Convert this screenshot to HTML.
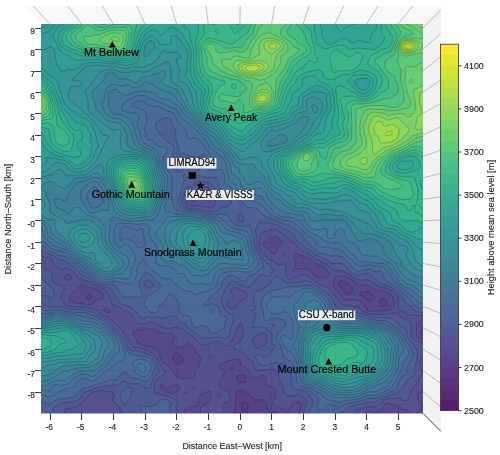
<!DOCTYPE html>
<html><head><meta charset="utf-8"><title>Terrain</title>
<style>
html,body{margin:0;padding:0;background:#fff;}
body{width:500px;height:455px;overflow:hidden;}
svg{display:block;font-family:"Liberation Sans",sans-serif;}
</style></head><body>
<div style="will-change:transform;width:500px;height:455px;">
<svg width="500" height="455" viewBox="0 0 500 455">
<polygon points="41.0,24.0 24.4,5.9 440.9,5.9 423.0,24.0" fill="#f8f8f8"/>
<polygon points="423.0,24.0 440.9,5.9 440.9,431.4 423.0,413.4" fill="#f2f2f2"/>
<path d="M50.1 24.0L33.2 5.9M81.7 24.0L67.7 5.9M113.3 24.0L102.2 5.9M145.0 24.0L136.7 5.9M176.6 24.0L171.2 5.9M208.3 24.0L205.7 5.9M239.9 24.0L240.2 5.9M271.6 24.0L274.7 5.9M303.2 24.0L309.2 5.9M334.9 24.0L343.7 5.9M366.5 24.0L378.2 5.9M398.2 24.0L412.8 5.9M423.0 392.0L440.9 407.0M423.0 370.6L440.9 383.7M423.0 349.2L440.9 360.3M423.0 327.8L440.9 336.9M423.0 306.4L440.9 313.6M423.0 284.9L440.9 290.2M423.0 263.5L440.9 266.9M423.0 242.1L440.9 243.5M423.0 220.7L440.9 220.1M423.0 199.3L440.9 196.8M423.0 177.8L440.9 173.4M423.0 156.4L440.9 150.1M423.0 135.0L440.9 126.7M423.0 113.6L440.9 103.3M423.0 92.2L440.9 80.0M423.0 70.7L440.9 56.6M423.0 49.3L440.9 33.3M423.0 27.9L440.9 9.9" stroke="#b0b0b0" stroke-width="0.8" fill="none"/>
<rect x="41.0" y="24.0" width="382.0" height="389.4" fill="#f5f5f5"/>
<path d="M50.1 24.0V413.4M81.7 24.0V413.4M113.3 24.0V413.4M145.0 24.0V413.4M176.6 24.0V413.4M208.3 24.0V413.4M239.9 24.0V413.4M271.6 24.0V413.4M303.2 24.0V413.4M334.9 24.0V413.4M366.5 24.0V413.4M398.2 24.0V413.4M41.0 392.0H423.0M41.0 370.6H423.0M41.0 349.2H423.0M41.0 327.8H423.0M41.0 306.4H423.0M41.0 284.9H423.0M41.0 263.5H423.0M41.0 242.1H423.0M41.0 220.7H423.0M41.0 199.3H423.0M41.0 177.8H423.0M41.0 156.4H423.0M41.0 135.0H423.0M41.0 113.6H423.0M41.0 92.2H423.0M41.0 70.7H423.0M41.0 49.3H423.0M41.0 27.9H423.0" stroke="#b0b0b0" stroke-width="0.8" fill="none"/>
<clipPath id="pc"><rect x="41.0" y="24.0" width="382.0" height="389.4"/></clipPath>
<g clip-path="url(#pc)"><defs><path id="c1" d="M426.0 417.0 38.0 417.0 38.0 21.0 426.0 21.0 426.0 417.0Z"/><path id="c2" d="M426.0 417.0 38.0 417.0 38.0 21.0 426.0 21.0 426.0 417.0Z"/><path id="c3" d="M426.0 417.0 38.0 417.0 38.0 21.0 426.0 21.0 426.0 417.0Z"/><path id="c4" d="M426.0 417.0 248.2 417.0 247.9 414.0 246.1 411.0 248.0 407.0 248.0 405.0 246.0 401.8 244.0 400.9 242.4 402.0 241.5 405.0 241.7 407.5 243.4 411.5 242.5 417.0 38.0 417.0 38.0 21.0 426.0 21.0 426.0 417.0Z"/><path id="c5" d="M426.0 417.0 278.9 417.0 278.2 414.0 276.5 411.8 274.5 411.4 270.5 412.1 268.5 411.0 267.1 408.5 265.2 402.5 263.0 399.9 261.0 399.3 256.0 400.3 254.5 400.0 249.0 394.3 242.5 390.5 240.5 390.0 237.0 390.9 235.7 392.5 236.4 397.5 235.2 403.0 235.5 408.0 233.8 412.5 234.8 417.0 38.0 417.0 38.0 21.0 426.0 21.0 426.0 324.8 424.4 327.5 421.3 330.0 420.6 332.0 421.0 334.0 421.8 335.0 426.0 336.5 426.0 417.0ZM348.5 294.0 350.5 293.4 352.3 291.5 352.9 289.0 352.1 287.0 348.0 284.4 344.1 281.0 341.5 280.6 339.1 281.5 338.2 283.5 338.9 285.5 342.6 289.0 346.0 293.5 348.5 294.0ZM371.1 300.5 374.0 298.5 374.8 297.0 373.9 295.5 370.0 292.3 367.0 291.6 360.0 293.0 359.4 293.5 360.0 294.7 363.0 296.7 366.3 300.0 368.5 300.7 371.1 300.5ZM89.0 300.0 90.7 299.0 91.6 297.0 91.0 295.0 89.5 294.1 87.5 295.3 86.3 298.0 87.1 299.5 89.0 300.0ZM384.6 306.5 387.0 304.5 387.0 301.5 384.5 298.8 381.5 298.6 380.2 300.0 379.7 305.0 381.5 306.6 384.6 306.5ZM179.6 364.5 183.6 362.0 184.3 361.0 184.4 359.5 178.2 353.5 176.5 353.0 173.1 356.0 172.5 359.0 173.5 361.5 175.0 363.2 177.5 364.4 179.6 364.5ZM243.7 382.5 245.2 381.5 246.3 379.5 246.5 378.0 245.8 376.5 244.0 375.5 241.0 374.9 239.0 375.1 237.5 376.0 236.7 378.5 237.3 381.0 240.0 382.5 243.7 382.5Z"/><path id="c6" d="M364.0 417.0 298.9 417.0 299.2 413.5 301.4 405.5 300.3 403.0 298.0 402.1 295.0 402.4 293.0 403.5 290.1 407.0 288.0 411.8 287.0 412.3 286.0 412.0 280.0 407.0 273.8 405.5 272.4 404.5 272.4 402.5 274.4 398.5 275.5 390.5 274.5 388.7 271.0 386.2 265.5 385.1 266.0 379.0 265.1 376.5 263.5 375.6 261.5 375.5 255.5 377.9 253.0 377.6 247.0 368.0 245.0 366.7 240.5 365.5 240.2 364.5 240.7 361.5 240.0 360.1 235.5 358.9 229.0 360.7 219.0 364.9 218.1 366.0 218.9 367.5 223.5 369.9 224.4 371.5 222.7 376.5 218.5 384.0 218.4 386.0 220.1 387.5 227.5 391.8 229.8 395.0 230.6 397.5 230.1 400.0 229.0 401.6 224.0 403.3 222.5 404.5 222.3 406.5 223.9 410.0 223.9 411.5 221.0 414.5 220.0 417.0 200.1 417.0 200.6 407.5 208.5 402.1 210.0 399.8 211.3 393.5 210.5 391.9 208.5 391.4 206.0 392.1 201.0 395.1 199.5 396.6 198.2 399.0 198.3 404.0 197.3 406.0 195.0 406.5 190.0 405.7 188.2 406.5 185.9 408.5 184.7 411.0 185.6 417.0 38.0 417.0 38.0 21.0 426.0 21.0 426.0 318.2 422.9 319.0 417.5 322.6 416.9 324.5 416.1 333.5 416.5 336.0 418.0 337.6 421.0 338.9 426.0 339.7 426.0 360.8 425.3 363.0 426.0 365.3 426.0 387.5 423.9 390.0 419.0 393.5 417.5 396.0 417.2 398.5 421.1 403.0 421.8 407.5 420.5 410.4 415.0 415.1 414.0 414.9 408.5 410.6 402.0 409.4 397.5 405.1 393.0 405.1 387.5 402.8 385.5 403.6 381.5 409.4 379.0 411.5 375.5 412.1 369.0 410.6 366.5 411.2 365.1 413.0 364.5 417.0 364.0 417.0ZM193.5 201.0 195.9 199.5 196.5 198.5 196.0 197.4 194.5 196.5 192.5 197.0 191.7 198.5 191.8 201.0 193.5 201.0ZM207.1 200.0 208.5 199.2 209.2 198.0 208.9 197.0 208.0 196.4 206.5 197.0 205.0 198.5 205.5 199.7 207.1 200.0ZM274.8 253.5 276.0 252.4 277.6 248.5 281.2 244.0 281.6 242.5 280.6 240.5 278.0 237.7 276.0 236.5 274.0 236.2 269.2 238.0 266.9 241.0 263.5 243.2 262.8 244.5 263.5 246.1 268.5 249.1 272.0 253.0 273.5 253.7 274.8 253.5ZM319.9 277.5 325.5 276.8 328.0 276.0 329.1 274.5 328.4 272.0 322.5 266.3 317.0 264.5 309.0 258.1 297.0 253.8 295.5 253.8 294.5 254.5 294.1 257.0 295.6 264.5 295.0 266.9 293.3 269.5 293.5 270.8 295.0 270.7 298.0 268.6 303.0 269.1 307.5 268.6 309.5 269.8 315.5 276.5 317.5 277.4 319.9 277.5ZM68.9 280.0 70.1 279.5 71.0 278.2 71.1 277.0 70.3 275.5 69.0 274.6 67.5 274.5 64.6 276.0 63.8 277.5 64.2 279.0 66.5 279.9 68.9 280.0ZM383.7 311.0 391.5 308.8 393.0 307.8 394.1 306.0 394.4 302.5 393.6 298.5 392.1 296.0 389.8 294.0 383.0 291.1 376.0 289.9 367.0 284.9 359.0 285.0 354.9 281.5 346.5 276.7 338.0 276.0 336.0 276.6 334.3 278.0 333.0 282.5 333.9 287.0 335.0 288.5 339.7 292.5 342.4 298.5 343.5 299.5 346.0 300.0 355.0 299.7 360.5 301.5 364.3 305.0 367.3 310.0 369.0 311.2 383.7 311.0ZM91.4 304.5 98.0 299.7 102.5 299.0 103.4 298.0 102.9 295.0 101.5 292.6 93.7 288.0 87.5 287.4 83.5 285.5 80.5 285.8 78.8 287.0 77.0 290.9 71.0 294.4 69.7 296.0 69.5 300.0 71.5 302.0 87.5 304.8 91.4 304.5ZM109.2 312.5 110.1 311.0 108.4 309.0 106.0 308.1 103.8 309.0 103.6 310.5 104.5 311.5 107.0 312.5 109.2 312.5ZM184.9 379.0 188.0 378.2 193.0 378.6 195.0 377.9 195.6 376.5 194.5 372.0 198.0 367.0 200.8 360.0 200.0 356.6 196.0 353.5 194.4 348.5 189.5 342.8 188.5 342.3 185.3 345.5 181.0 347.6 178.5 347.5 174.0 346.1 172.1 344.5 174.4 338.0 174.1 336.0 172.5 333.7 171.0 333.1 166.5 333.9 163.0 333.4 158.5 331.9 153.0 328.8 138.5 329.9 132.9 332.5 132.7 334.0 135.7 338.0 137.2 343.0 146.5 346.5 153.0 346.7 155.5 347.9 158.2 351.0 161.5 360.9 162.5 362.5 167.0 364.4 168.5 365.7 174.0 372.2 176.5 376.8 182.5 378.8 184.9 379.0ZM231.5 369.5 230.6 369.0 231.1 367.5 232.5 366.6 234.0 366.5 234.5 367.0 234.0 368.2 231.5 369.5ZM174.2 393.5 177.0 392.1 179.0 389.5 179.2 386.5 177.5 384.3 176.0 384.1 173.0 386.3 167.5 387.9 166.0 387.7 162.5 385.0 161.0 384.8 160.1 385.5 159.9 387.0 160.9 388.5 167.6 392.5 171.0 393.5 174.2 393.5ZM290.5 417.0 288.1 417.0 289.5 416.1 290.5 417.0Z"/><path id="c7" d="M360.0 417.0 304.1 417.0 304.3 410.0 306.5 403.5 305.8 400.0 303.5 397.1 301.3 395.5 298.5 394.7 290.0 396.2 287.0 395.5 284.7 393.5 283.5 391.6 282.4 386.0 279.7 381.5 278.8 376.5 275.0 369.5 272.5 368.8 259.5 370.8 257.0 370.3 254.5 367.4 253.0 362.5 251.6 360.5 247.0 357.4 243.5 353.0 234.5 348.8 233.7 348.0 233.6 346.5 234.4 344.5 239.5 342.5 242.5 337.5 243.4 331.0 242.3 327.0 242.2 324.5 241.5 323.4 240.5 323.2 239.4 324.0 237.0 329.0 235.2 335.0 232.0 340.5 227.5 345.9 225.0 346.0 221.0 342.4 216.0 341.3 213.5 341.8 205.0 345.5 203.0 345.5 199.0 343.3 195.0 338.5 184.5 330.2 181.5 328.5 175.5 327.5 166.0 328.7 154.5 323.2 150.5 322.1 148.5 322.2 144.0 324.0 137.5 322.9 136.0 321.7 132.0 315.5 129.5 312.7 125.0 310.8 121.0 308.2 112.0 304.4 111.2 303.0 110.8 299.0 109.9 296.0 104.2 289.5 87.5 281.2 79.5 278.2 77.2 276.5 73.9 272.0 66.0 267.5 65.0 267.5 63.5 269.2 62.5 269.6 55.5 266.8 54.5 265.5 52.9 260.5 50.0 257.7 38.0 255.5 38.0 21.0 426.0 21.0 426.0 315.6 420.5 315.9 415.5 315.1 409.0 314.9 405.0 312.5 400.0 310.5 398.8 309.5 398.1 307.5 398.3 297.5 397.0 295.0 394.8 293.0 386.5 288.3 378.5 286.1 372.3 282.0 368.0 280.0 366.0 279.6 361.5 280.1 359.0 279.6 353.5 277.5 343.5 271.0 335.5 270.6 333.0 269.7 329.7 267.5 324.0 262.3 316.0 258.9 309.5 254.2 302.3 251.0 296.5 245.0 280.5 232.1 275.0 229.7 270.4 229.5 261.5 232.8 260.1 234.5 260.2 239.0 258.6 245.5 260.0 249.8 263.0 254.2 266.2 256.5 269.0 259.4 273.5 261.1 278.0 264.5 283.5 264.3 285.0 264.9 285.9 267.0 285.7 273.5 286.8 277.0 288.0 278.7 289.5 279.3 291.9 279.0 301.5 274.7 304.0 274.8 307.0 275.7 317.0 282.7 323.5 286.1 329.0 288.1 334.5 295.6 337.5 298.0 338.9 302.0 340.5 303.7 345.5 305.9 351.0 306.0 358.0 307.6 363.5 312.0 367.0 313.8 374.0 314.7 385.5 314.2 392.5 313.2 396.5 313.5 400.5 316.8 407.0 319.6 409.7 322.5 411.3 326.0 411.0 334.5 411.5 337.0 412.5 338.5 417.5 341.3 426.0 343.7 426.0 354.7 421.6 357.0 420.5 358.9 419.9 361.5 420.4 368.0 422.3 373.0 422.0 374.9 417.8 381.0 415.6 385.5 411.2 389.5 408.4 399.5 406.5 400.5 403.5 400.7 400.0 398.1 398.5 397.6 394.0 398.4 387.0 398.7 383.5 400.0 378.0 405.4 376.0 406.6 373.5 407.1 367.5 406.6 360.5 409.3 356.0 409.5 354.0 410.3 353.8 411.5 354.7 412.5 359.0 414.2 360.0 417.0ZM211.1 208.0 213.1 207.0 214.5 205.0 215.6 199.5 215.6 196.5 214.1 193.0 208.0 187.2 205.5 186.7 201.0 187.6 196.1 190.5 190.0 192.4 188.5 193.8 185.3 202.5 185.9 204.5 187.5 205.9 191.0 206.7 198.0 205.5 211.1 208.0ZM285.0 255.2 284.0 254.5 284.5 253.3 285.4 254.0 285.0 255.2ZM181.0 417.0 123.2 417.0 121.2 410.5 118.0 405.3 112.9 401.5 112.8 399.5 114.5 395.5 113.5 392.6 112.0 391.7 108.0 391.5 103.5 390.5 97.0 390.8 90.0 393.9 85.0 398.4 81.8 403.0 77.0 406.5 72.0 407.6 68.5 409.0 65.5 408.7 64.9 409.5 64.8 417.0 38.0 417.0 38.0 264.6 41.0 266.0 44.2 269.5 49.5 270.9 51.3 272.0 52.2 274.5 52.0 280.0 53.5 282.5 56.0 284.1 62.0 286.0 64.3 287.5 64.4 289.0 62.3 292.5 60.2 298.0 61.2 300.0 65.3 305.0 68.5 306.4 85.5 307.3 96.0 309.7 101.4 314.0 110.4 319.0 121.8 329.5 123.9 334.0 127.8 338.5 132.5 346.7 134.0 347.4 138.5 347.6 141.0 348.2 150.5 352.2 154.1 355.0 156.5 358.1 161.0 366.6 164.3 369.5 165.0 371.0 164.5 373.0 163.3 375.0 157.5 378.7 155.5 381.0 154.8 383.5 154.1 391.5 156.0 393.2 168.0 396.5 177.0 400.5 177.7 401.5 177.9 403.5 176.0 407.5 176.0 409.0 181.0 415.5 181.5 417.0 181.0 417.0ZM233.9 308.5 236.6 308.0 237.5 304.0 238.4 302.5 245.8 298.5 247.0 296.0 246.5 293.1 245.0 291.5 242.5 290.1 238.5 289.1 234.5 287.3 232.6 288.0 231.2 290.0 231.2 291.5 232.6 295.5 232.4 297.0 228.5 299.6 227.4 302.0 228.0 306.5 229.0 308.3 230.5 308.9 233.9 308.5ZM260.3 348.0 264.5 345.1 266.5 342.1 267.3 339.5 267.3 337.0 266.5 334.9 264.5 333.2 262.0 332.3 260.0 332.7 257.0 335.4 253.5 337.5 252.3 339.0 251.9 340.5 252.7 343.5 255.5 347.4 257.5 348.4 260.3 348.0ZM211.0 358.5 209.0 358.3 208.6 357.0 211.5 355.5 213.5 355.4 214.5 356.0 214.5 357.0 213.9 357.5 211.0 358.5ZM194.0 388.7 193.0 388.5 192.7 387.5 194.0 386.2 194.7 386.5 195.0 387.5 194.0 388.7ZM186.0 394.0 185.1 393.0 186.0 391.7 186.8 392.0 187.1 393.0 186.0 394.0ZM219.5 397.1 218.0 396.9 217.3 396.0 217.5 394.8 218.5 394.1 220.5 394.1 221.4 395.0 221.0 396.3 219.5 397.1ZM91.5 417.0 88.8 417.0 89.5 416.0 90.5 415.7 91.5 416.4 91.5 417.0Z"/><path id="c8" d="M203.5 338.5 201.6 338.0 199.0 335.5 195.5 333.7 190.4 330.0 186.0 324.7 181.0 322.2 178.0 318.7 172.5 315.9 168.5 316.0 163.0 318.7 157.5 317.0 152.5 317.3 148.0 316.8 143.0 318.1 140.0 317.3 138.4 316.0 136.3 312.0 131.0 307.3 121.1 304.0 119.4 303.0 117.8 299.0 111.0 288.5 101.5 285.6 95.0 282.0 89.5 278.1 83.0 276.2 77.8 270.5 66.0 261.0 59.0 259.6 51.0 254.6 46.0 253.2 42.0 251.1 38.0 250.0 38.0 21.0 426.0 21.0 426.0 312.9 419.0 312.0 413.5 309.8 409.0 305.4 404.2 302.0 401.7 296.5 397.0 291.1 387.5 285.3 381.0 283.5 378.5 282.3 369.0 273.5 366.5 272.9 358.0 275.3 354.0 274.6 350.0 271.5 346.3 266.5 343.0 264.3 339.5 263.2 332.0 263.4 326.0 259.1 315.5 254.9 311.0 250.9 305.5 247.7 297.8 241.5 296.1 239.5 294.0 234.8 286.5 229.9 281.5 227.9 278.0 224.9 261.0 221.9 259.0 223.0 255.5 229.5 255.5 232.0 257.1 238.0 255.9 244.0 256.2 247.5 257.3 250.5 261.4 257.0 266.5 262.7 271.4 267.0 272.6 270.0 272.2 272.5 270.0 275.2 268.0 276.3 266.0 276.1 262.0 274.4 259.5 275.0 258.0 276.5 252.5 284.6 250.8 286.0 248.5 286.9 246.0 287.1 244.0 286.5 240.5 285.1 236.5 282.3 234.5 281.5 231.5 281.4 229.5 282.6 225.2 289.0 221.2 300.5 224.9 310.5 227.5 312.7 232.4 314.5 233.9 316.5 232.1 325.0 230.5 329.0 229.5 335.2 228.0 337.1 226.0 337.9 217.0 337.1 203.5 338.5ZM214.7 212.0 217.0 211.1 221.0 207.9 226.0 207.1 229.5 205.7 231.0 204.4 231.6 202.5 230.9 200.5 229.0 198.9 227.0 198.6 223.0 199.0 221.5 198.5 217.0 190.6 211.5 184.0 208.0 182.4 203.0 182.3 197.5 181.3 194.5 183.0 191.0 186.6 187.5 188.0 186.0 189.1 182.4 198.5 181.9 201.0 182.4 204.5 184.4 207.0 188.5 208.9 197.0 208.9 209.7 212.0 214.7 212.0ZM242.7 221.5 243.5 220.5 243.7 219.0 242.5 215.3 241.0 214.0 238.5 214.5 237.6 216.5 238.4 220.5 240.5 221.9 242.7 221.5ZM331.5 417.0 309.0 417.0 308.9 411.5 312.1 406.0 312.7 402.0 312.3 399.5 309.6 395.5 305.5 391.4 303.0 390.4 296.0 389.4 291.9 386.5 290.8 383.5 292.1 378.0 291.4 373.5 290.1 371.0 286.6 368.0 285.0 365.3 283.0 364.0 278.5 362.8 273.0 363.3 265.0 365.3 261.0 365.1 258.8 363.5 255.3 357.0 255.5 356.0 259.0 354.5 263.5 357.1 267.5 356.5 269.0 355.3 271.3 351.5 275.3 346.5 272.8 344.0 272.1 342.5 272.0 333.8 271.1 332.0 265.8 328.5 259.5 326.4 257.5 326.4 254.0 328.0 253.0 327.7 252.6 327.0 256.0 315.5 255.5 313.4 253.0 312.0 252.2 310.5 253.5 309.4 256.0 309.5 256.3 308.5 253.9 304.5 253.8 294.0 255.5 292.0 260.5 290.3 264.0 287.6 268.6 285.5 273.6 278.5 276.0 276.5 277.5 276.4 279.0 276.9 283.5 281.4 287.5 283.0 298.5 282.4 305.0 280.9 308.0 281.1 310.0 281.9 318.5 287.2 324.0 292.0 329.0 294.5 336.0 306.6 338.5 308.6 345.0 310.8 358.0 312.8 369.5 316.8 375.5 317.6 382.0 317.4 388.5 317.9 393.0 319.1 401.0 326.2 405.5 328.8 408.2 339.0 413.1 344.0 417.8 351.5 417.9 353.5 414.7 369.0 414.5 375.0 413.0 376.5 409.5 378.2 407.2 380.0 404.8 384.5 400.5 390.2 394.5 394.2 384.0 397.3 377.0 401.2 373.0 402.3 367.5 402.3 349.5 406.7 347.5 407.8 343.5 411.4 337.0 413.4 332.5 413.8 331.6 415.5 332.0 417.0 331.5 417.0ZM51.5 297.7 50.0 297.6 46.5 295.7 42.0 295.7 39.3 293.5 38.0 293.2 38.0 278.4 44.0 280.0 46.9 284.0 53.1 290.0 54.1 292.0 54.2 294.0 53.0 296.6 51.5 297.7ZM150.7 288.0 153.3 286.5 153.4 285.0 152.7 283.5 149.5 280.4 147.5 279.9 146.0 280.5 144.1 283.0 144.9 286.0 147.0 287.9 150.7 288.0ZM54.5 417.0 38.0 417.0 38.0 300.1 42.5 304.2 48.5 306.8 51.0 307.1 57.0 306.4 67.0 309.1 85.5 309.9 93.5 312.4 97.0 314.1 104.3 318.5 108.0 321.5 114.6 329.0 124.0 338.2 125.6 340.5 128.3 347.5 130.0 349.8 132.5 350.8 139.0 351.1 148.5 354.5 151.5 356.3 157.1 364.5 158.8 370.5 158.5 372.7 153.5 378.0 152.3 380.5 150.5 386.5 148.5 388.3 146.0 388.2 139.0 383.7 130.0 383.8 124.0 380.9 119.0 384.4 97.0 387.3 83.8 393.0 82.2 394.5 80.0 398.7 78.0 400.2 73.0 402.0 68.5 402.1 62.0 403.3 55.0 406.4 53.3 409.0 54.9 417.0 54.5 417.0ZM274.7 326.5 274.8 325.5 274.0 324.6 273.0 324.4 272.0 324.9 272.8 326.5 274.7 326.5ZM125.0 404.6 123.5 403.9 121.2 400.0 120.3 397.5 120.4 395.0 122.0 392.1 125.0 389.0 128.0 387.4 130.5 387.2 131.5 388.0 132.1 390.0 130.3 397.5 126.0 404.0 125.0 404.6ZM172.0 417.0 144.5 417.0 140.5 409.5 140.1 406.0 141.5 405.3 144.5 406.7 146.5 407.0 154.0 405.5 157.2 404.0 158.3 401.0 159.5 400.0 166.5 399.5 168.5 400.7 170.0 403.0 170.2 405.5 169.2 410.0 172.2 416.0 172.4 417.0 172.0 417.0Z"/><path id="c9" d="M214.0 333.5 210.8 332.5 207.0 327.4 204.0 325.4 200.5 325.5 196.5 328.1 194.0 327.2 192.7 325.0 190.5 317.0 188.0 315.5 183.0 315.5 181.0 314.0 179.3 311.0 179.1 305.0 176.7 299.0 175.0 297.0 170.0 293.8 169.0 293.8 168.5 294.5 167.4 297.5 164.0 302.3 158.5 306.2 158.0 307.5 158.3 310.5 157.8 311.5 155.7 312.5 153.0 312.8 151.0 312.4 148.9 311.0 144.5 306.4 144.0 304.5 144.4 302.5 146.7 298.5 149.9 295.0 158.6 289.5 159.8 287.5 160.3 285.5 159.5 283.5 156.0 280.7 153.0 276.3 149.5 273.9 146.0 272.8 144.3 273.0 139.3 281.5 139.2 285.5 142.5 293.0 142.1 295.5 141.1 297.0 139.0 297.7 133.0 296.6 128.0 297.5 126.0 297.4 123.0 295.9 119.5 292.6 116.9 287.0 115.0 285.0 112.0 284.1 105.0 284.4 101.0 283.1 96.8 280.5 90.5 275.2 84.0 272.1 66.5 256.9 58.5 255.2 48.3 250.5 44.5 247.1 38.0 245.9 38.0 21.0 426.0 21.0 426.0 309.0 418.5 307.9 415.5 306.5 411.4 301.0 406.5 296.8 403.0 292.9 397.5 288.0 392.9 285.5 389.0 281.7 385.0 279.4 384.0 278.0 382.4 273.0 381.0 271.2 379.5 270.8 376.0 271.8 371.0 269.2 369.0 268.7 359.5 271.1 357.0 271.0 354.5 269.5 342.8 257.0 336.5 255.7 331.5 255.9 318.4 252.5 309.8 245.0 304.9 239.5 301.0 233.5 297.5 230.4 293.0 228.3 288.2 225.0 283.5 224.1 279.5 221.8 265.1 216.0 262.2 214.0 255.8 208.0 247.0 207.2 243.4 203.0 238.5 200.3 231.5 194.2 229.0 193.0 224.5 192.8 222.5 192.0 218.5 186.0 217.5 179.0 216.5 177.6 210.5 177.7 203.5 176.8 194.9 174.0 194.8 173.0 195.5 172.0 200.0 169.2 203.8 164.5 204.2 162.0 202.5 158.0 204.4 155.5 204.2 154.5 202.5 154.2 200.0 156.7 196.5 157.8 183.5 153.9 179.8 151.0 178.8 149.5 178.0 145.0 174.7 137.0 175.8 131.0 172.5 125.5 170.5 119.2 169.0 118.3 165.0 117.7 156.1 122.5 155.5 125.0 156.0 128.5 162.0 137.2 163.5 138.5 166.5 139.8 168.5 142.7 172.6 145.0 174.1 147.0 173.2 153.0 173.2 157.5 172.3 159.5 169.2 163.5 169.9 166.5 171.5 168.0 176.5 170.8 180.0 172.0 181.5 171.8 184.0 168.4 185.5 168.4 186.8 169.5 188.5 172.9 191.2 175.0 190.0 177.0 188.0 177.7 187.0 177.4 185.0 174.6 183.5 174.3 182.8 175.0 182.9 176.5 184.6 180.0 182.3 185.5 181.3 191.0 178.8 198.0 178.5 203.5 179.8 206.5 183.3 209.5 187.5 211.0 197.0 211.1 212.5 214.9 216.5 214.9 221.5 213.7 226.5 214.7 228.8 216.0 229.7 219.5 231.0 221.5 235.5 224.8 243.0 226.2 248.5 225.5 249.5 225.9 254.1 237.5 253.5 244.5 254.3 249.5 262.3 262.0 263.4 264.5 263.3 266.5 262.5 267.6 259.0 270.0 254.5 274.2 248.5 276.2 247.4 277.5 246.5 280.0 245.0 281.3 242.0 281.0 234.9 276.0 233.0 275.4 229.1 276.0 223.5 279.5 222.3 281.0 221.5 286.5 218.5 290.7 212.0 295.3 204.6 303.0 203.8 305.0 204.5 306.3 208.5 304.3 210.5 303.9 214.0 304.5 217.3 306.0 219.2 308.5 220.6 315.0 222.0 315.9 226.1 317.0 227.2 318.0 225.4 322.5 224.6 327.0 223.6 328.5 219.5 330.5 216.5 332.9 214.0 333.5ZM321.5 410.0 318.5 410.1 317.3 408.5 317.2 406.5 318.7 401.5 318.3 399.0 317.5 397.5 308.4 389.5 305.0 387.5 300.0 385.6 297.5 383.5 296.5 381.0 296.3 374.5 292.7 364.5 289.5 360.7 284.5 358.0 282.8 355.5 280.9 346.0 276.9 339.5 276.4 337.0 278.1 333.0 285.2 325.5 286.0 323.5 285.6 322.0 283.5 320.2 278.0 318.2 272.0 318.6 266.5 320.8 265.5 320.8 264.5 319.7 263.6 315.5 263.3 311.0 261.3 305.5 261.1 303.0 263.0 296.5 267.5 292.5 271.5 291.4 275.0 289.8 280.0 289.2 289.5 286.6 296.0 287.1 306.0 285.0 310.0 285.4 316.5 289.1 327.0 297.8 334.5 309.9 341.5 313.9 349.0 315.2 357.0 315.3 368.5 319.0 376.5 320.4 384.5 320.7 388.2 322.0 402.4 333.0 404.0 335.5 406.2 341.0 409.8 346.0 412.4 351.0 413.2 353.5 413.0 355.5 410.2 362.0 407.2 367.0 406.3 373.0 405.1 374.5 401.0 377.6 399.1 381.0 397.6 386.5 392.6 391.0 378.0 397.7 367.5 398.7 360.5 401.1 346.0 403.9 340.0 406.9 337.0 406.8 331.0 404.6 328.0 404.6 326.3 405.5 323.5 408.9 321.5 410.0ZM50.5 404.0 48.5 404.1 44.5 402.8 40.5 398.9 38.0 397.9 38.0 309.4 41.0 309.4 44.5 310.7 47.0 310.9 56.5 309.2 64.5 311.3 74.5 312.4 84.0 312.4 96.5 316.9 101.5 319.7 107.5 324.5 112.2 330.5 122.1 339.5 123.5 341.7 126.5 350.0 129.5 353.7 132.5 355.1 141.0 355.8 148.5 357.5 151.0 359.6 154.9 366.0 155.2 368.0 154.5 369.9 149.5 378.4 147.0 381.1 145.0 381.2 137.5 378.7 132.0 378.0 130.0 376.7 127.0 372.8 124.0 372.0 120.0 374.5 117.5 378.7 116.0 379.9 108.5 379.8 103.5 382.5 96.5 384.4 89.0 387.2 84.0 388.2 80.0 390.7 76.8 395.0 75.0 396.4 66.0 398.6 58.5 399.0 55.0 400.6 50.5 404.0ZM323.5 417.0 318.4 417.0 319.5 415.2 321.0 414.5 322.9 415.5 323.5 417.0Z"/><path id="c10" d="M426.0 303.6 420.5 303.6 417.9 302.5 414.0 297.7 409.1 294.0 406.4 291.0 401.5 288.2 394.8 282.5 387.9 271.0 383.6 267.0 381.0 266.1 374.5 266.1 369.0 264.8 360.5 266.1 358.0 265.6 352.5 260.1 348.1 257.0 344.5 252.9 338.0 249.0 333.0 248.6 328.0 246.8 322.5 247.7 319.6 246.5 317.9 245.0 314.3 239.5 312.0 237.8 307.0 235.3 299.0 226.5 296.5 224.4 289.9 221.0 284.0 220.3 280.5 219.3 270.5 214.6 262.0 205.3 258.0 202.3 251.0 200.6 239.5 196.5 231.5 187.8 225.0 183.5 224.4 181.5 224.5 175.9 222.0 170.1 220.0 169.5 211.5 170.2 209.9 169.5 209.6 166.5 212.1 160.0 210.1 154.0 206.1 149.0 204.0 145.3 199.0 139.5 196.5 138.2 194.5 137.8 190.0 139.1 187.5 137.0 186.5 135.0 186.9 132.0 186.5 130.5 182.2 125.5 178.0 121.8 173.0 112.9 170.5 111.4 163.0 109.9 160.5 107.1 159.0 106.4 148.5 105.6 143.5 101.5 140.5 100.2 137.0 101.0 132.9 104.0 132.4 105.0 133.2 106.0 136.5 107.7 143.5 110.1 145.5 112.5 147.0 119.5 147.1 123.0 146.7 124.5 144.3 126.5 143.8 128.0 146.0 133.0 145.5 137.5 147.3 139.0 152.5 140.7 158.0 146.3 164.5 147.1 166.5 148.3 167.5 149.7 167.2 152.0 164.4 155.0 163.3 159.5 163.2 162.0 164.0 164.6 166.5 169.2 170.6 173.5 171.4 175.0 172.1 188.0 170.7 193.5 174.5 208.5 177.0 210.3 186.0 212.9 197.0 213.1 210.5 216.6 220.5 218.4 223.9 220.5 228.5 226.0 230.4 227.5 246.5 231.4 247.9 233.0 250.6 238.0 251.5 249.0 258.3 261.0 258.7 263.0 258.0 265.0 253.0 270.5 250.5 271.6 245.5 272.3 239.0 271.3 229.5 271.1 222.6 273.0 220.5 274.4 218.9 276.5 217.6 279.5 216.8 284.5 214.5 287.5 205.5 291.9 196.0 294.3 194.5 293.9 191.0 291.6 186.0 290.8 182.0 289.2 169.8 279.5 167.5 278.8 163.5 278.8 161.2 278.0 158.3 274.5 152.5 271.0 146.4 265.5 144.5 260.0 143.5 259.0 142.5 259.6 136.8 268.0 136.4 269.5 137.3 273.5 137.0 275.5 134.0 280.5 131.0 283.4 127.0 283.6 115.0 281.2 106.0 282.1 102.5 281.6 99.0 279.6 91.5 272.6 85.5 269.5 81.0 264.7 75.5 261.3 67.0 253.2 61.0 251.0 53.5 249.6 49.5 247.2 46.0 243.0 41.0 241.2 39.9 240.0 39.0 237.0 38.0 235.7 38.0 21.0 426.0 21.0 426.0 303.6ZM139.8 248.0 145.7 245.5 146.3 244.5 143.6 237.0 143.0 228.7 141.0 228.3 138.0 230.3 136.5 230.5 129.5 227.0 125.0 226.2 122.2 227.0 121.0 228.5 120.0 231.5 119.7 240.0 120.5 240.3 124.5 238.4 129.5 240.0 133.3 240.5 134.4 241.5 137.5 247.6 138.5 248.2 139.8 248.0ZM340.5 402.5 338.5 402.8 334.6 401.0 326.5 399.6 322.0 394.3 315.5 391.4 301.4 381.5 300.5 376.0 298.3 370.5 296.4 362.0 293.5 354.6 291.9 352.5 288.0 350.4 285.9 348.5 282.4 342.5 280.8 338.0 281.4 336.0 283.5 335.2 286.5 336.2 290.0 339.4 291.0 339.3 292.1 338.5 293.1 336.5 293.6 334.0 292.7 329.0 293.5 324.0 292.9 321.0 290.0 315.8 287.8 313.0 286.0 311.8 284.0 311.7 279.2 314.0 276.5 314.5 272.0 313.2 269.5 311.5 266.6 307.0 266.3 305.0 267.1 303.5 273.0 297.0 277.5 296.9 282.5 295.9 287.5 297.4 289.0 297.3 291.0 296.2 294.2 292.5 302.1 289.0 306.0 288.1 310.0 288.6 315.5 291.4 324.6 299.5 332.1 311.5 340.5 317.1 344.0 318.1 357.0 317.9 368.0 321.2 383.0 323.7 392.5 328.8 398.2 333.0 400.4 335.5 403.5 342.0 407.9 349.5 408.9 352.0 409.0 353.9 403.5 362.0 401.6 369.0 394.0 383.5 391.1 387.5 388.5 389.5 377.5 395.0 368.5 395.3 359.0 398.8 344.0 400.9 340.5 402.5ZM212.5 313.5 211.4 313.0 210.8 311.0 211.4 309.5 212.5 309.1 213.5 309.5 214.1 311.0 213.5 312.7 212.5 313.5ZM51.5 396.1 47.0 396.1 40.5 394.2 38.0 393.9 38.0 314.1 43.0 314.1 50.0 313.3 56.5 311.6 62.0 313.3 70.0 313.8 83.5 316.5 88.0 318.1 93.0 318.7 99.5 321.7 106.5 327.3 120.4 341.5 125.3 354.5 125.4 356.5 124.7 358.0 122.0 360.4 116.5 362.2 111.0 367.9 106.5 370.7 95.0 380.0 90.5 381.2 85.5 378.3 82.0 378.6 77.0 382.0 75.3 385.5 73.9 387.0 59.8 391.0 54.5 394.9 51.5 396.1ZM146.0 376.0 144.0 376.4 141.5 376.1 135.1 372.5 132.9 363.0 133.1 361.5 134.0 360.5 138.5 359.4 142.0 359.4 146.5 360.3 149.5 362.5 151.1 365.5 151.2 368.0 148.3 374.0 146.0 376.0Z"/><path id="c11" d="M426.0 298.6 420.5 297.3 409.5 288.6 402.7 286.0 397.4 280.0 390.0 268.0 386.5 264.7 382.5 263.4 375.5 263.0 368.5 261.2 362.0 262.0 360.0 261.8 358.5 260.6 356.0 256.5 350.9 253.5 347.0 248.5 340.0 242.9 338.0 242.5 332.5 243.1 325.9 241.5 317.5 235.8 308.5 231.2 304.0 226.5 300.1 221.5 298.5 220.2 290.0 217.2 285.0 217.3 282.0 216.7 274.3 213.0 271.0 208.4 265.9 204.0 263.0 198.0 261.5 196.4 253.5 194.4 246.0 194.9 241.5 193.1 237.8 189.0 235.0 184.5 230.5 181.4 229.3 180.0 227.5 173.5 226.8 165.5 223.5 158.7 218.0 153.5 211.5 149.3 205.2 139.5 195.0 128.6 188.9 123.0 182.5 119.2 177.3 110.0 175.0 108.4 169.5 107.0 164.0 103.7 158.5 102.1 154.0 99.8 150.0 98.6 146.0 96.0 144.0 95.3 136.3 96.0 129.4 99.0 123.0 103.5 121.6 106.0 121.3 108.5 122.3 110.5 124.0 111.5 135.0 113.0 138.8 115.0 139.2 117.0 137.2 122.5 137.0 125.0 140.4 134.0 141.1 140.0 143.7 143.0 153.0 148.2 157.4 152.5 158.7 155.0 160.3 162.0 164.0 170.9 167.6 176.0 167.8 185.5 166.1 192.5 166.3 203.0 164.2 207.5 164.5 211.1 165.5 211.7 169.5 212.0 174.5 213.5 187.5 215.1 194.0 214.9 198.5 215.5 215.5 219.8 220.0 222.5 225.0 228.5 227.1 230.0 243.0 234.5 245.0 236.4 247.1 240.0 249.0 250.5 253.9 259.0 254.2 261.0 253.7 262.5 250.0 267.1 246.5 269.0 234.5 267.9 225.5 268.2 222.5 268.8 217.8 271.0 215.1 273.5 212.7 282.5 210.5 284.4 208.5 284.5 202.5 283.0 196.0 284.4 194.5 284.3 188.0 281.5 186.7 278.0 184.2 274.0 183.0 273.5 179.5 273.8 178.0 273.4 171.0 266.5 168.5 265.8 160.0 265.5 156.5 263.5 155.6 261.0 156.9 252.5 156.6 246.0 152.0 240.1 149.4 235.0 148.9 232.5 150.0 227.5 148.6 225.5 146.5 224.3 144.0 223.7 137.0 224.5 130.5 223.6 119.5 223.1 116.5 224.2 114.4 228.5 114.1 238.5 115.0 244.0 117.0 246.7 119.5 247.8 121.0 247.4 125.0 244.4 126.9 244.5 128.6 245.5 131.6 249.5 135.1 256.0 135.6 258.5 135.2 261.5 131.4 268.5 130.8 271.0 130.6 276.5 129.0 278.4 123.0 279.1 115.5 277.6 109.0 279.4 104.5 279.7 100.5 278.0 93.5 271.0 88.0 268.0 82.3 262.5 77.0 259.4 67.5 250.4 63.0 248.3 56.0 246.9 53.1 245.5 44.7 237.5 42.4 232.0 42.0 226.8 40.5 225.2 38.0 224.2 38.0 21.0 426.0 21.0 426.0 298.6ZM95.0 208.0 98.6 206.5 102.4 204.0 103.9 202.5 104.2 201.0 101.7 197.0 99.5 192.2 96.1 187.5 94.5 186.8 92.5 187.6 88.5 191.0 86.7 197.5 87.2 199.5 91.0 207.1 92.5 208.1 95.0 208.0ZM349.5 397.5 337.5 397.7 330.5 396.2 323.0 391.1 316.5 388.7 309.5 384.6 305.8 381.5 304.1 379.0 300.0 367.1 296.5 351.8 295.5 349.7 292.5 346.0 294.5 344.0 295.7 341.5 299.2 326.5 295.7 318.5 294.2 312.5 293.8 307.0 299.3 298.5 303.5 293.1 305.0 292.1 309.5 291.8 313.4 293.5 322.5 301.2 328.0 311.0 330.0 313.5 340.0 319.8 344.5 321.0 356.0 320.8 360.5 321.2 366.0 322.9 380.5 325.8 390.4 330.5 397.2 336.0 402.8 347.0 403.4 350.5 400.5 354.3 399.5 356.5 398.5 366.0 397.2 370.0 392.5 378.7 387.5 385.9 376.5 391.6 369.0 391.8 358.0 396.3 349.5 397.5ZM50.0 390.7 48.0 390.9 42.0 389.6 38.0 389.8 38.0 318.8 46.5 316.1 56.5 314.0 70.4 316.0 83.5 320.9 93.5 321.9 100.5 325.8 109.5 333.7 117.7 342.5 119.0 345.0 119.5 347.5 119.4 350.0 118.5 352.4 113.0 355.6 110.7 358.5 107.2 365.0 104.5 367.5 100.2 370.5 95.5 375.0 93.5 376.1 91.5 376.4 85.0 374.0 80.0 374.4 72.0 379.8 68.5 383.2 66.5 384.4 60.5 385.2 56.0 384.5 54.0 384.8 52.2 386.5 50.0 390.7ZM144.0 372.6 141.0 372.0 138.2 369.5 137.7 366.0 138.3 364.5 139.5 363.4 142.5 363.7 144.8 366.0 146.0 370.0 145.5 371.5 144.0 372.6Z"/><path id="c12" d="M426.0 294.6 423.5 293.6 412.5 285.8 405.5 283.3 400.0 277.5 396.1 272.0 392.4 265.5 389.0 262.1 382.2 259.5 378.0 256.1 371.5 256.3 367.0 255.2 363.5 255.2 362.0 254.7 360.5 252.6 357.6 246.0 349.3 241.0 345.6 237.5 344.3 231.5 342.5 228.9 340.0 228.6 336.4 231.0 335.0 233.0 334.5 236.5 333.5 238.0 331.0 238.7 328.5 238.4 327.3 237.5 326.7 236.0 327.7 231.0 326.5 228.6 325.0 228.1 319.0 229.7 312.5 228.7 310.0 227.4 307.5 224.8 305.5 221.5 304.3 217.0 303.0 215.8 300.0 214.9 294.0 214.4 290.0 213.0 285.5 213.2 283.5 212.5 277.5 208.2 274.4 205.0 269.5 201.7 266.0 192.5 262.5 189.4 260.0 188.3 258.0 188.2 248.0 190.2 242.9 188.0 241.5 186.5 240.5 181.5 239.0 178.6 236.5 176.5 232.5 174.4 231.5 173.2 230.0 163.5 224.5 153.8 221.2 150.5 214.0 146.0 208.4 137.0 201.7 131.5 195.0 122.9 187.6 117.0 183.5 112.9 178.5 106.0 174.0 103.4 170.0 100.1 161.0 98.4 158.6 97.0 154.5 93.4 145.0 90.5 135.5 91.8 128.5 94.7 123.5 95.0 121.0 94.1 117.0 89.5 115.0 89.4 111.5 90.4 109.5 92.0 108.5 94.5 108.8 105.0 110.7 111.0 113.0 113.6 115.0 114.5 119.0 114.3 122.5 115.1 127.6 117.5 130.2 119.5 131.6 121.5 134.3 128.5 137.7 141.0 139.1 144.0 141.5 146.2 151.5 150.8 155.1 154.5 159.1 164.0 161.7 172.5 164.9 179.0 165.0 183.5 164.0 190.0 163.2 201.0 160.5 206.0 159.6 211.0 157.8 214.5 155.0 217.9 151.5 220.0 145.0 219.7 139.0 220.9 133.5 221.1 126.0 220.5 114.5 217.2 112.5 217.3 111.3 218.0 110.4 220.0 109.7 228.5 109.2 239.5 109.5 241.5 113.3 247.5 115.5 249.9 121.0 253.5 127.0 256.3 128.7 260.0 129.1 263.5 123.8 272.5 122.5 273.5 116.0 274.3 108.0 277.2 104.5 277.1 102.0 276.0 95.6 270.0 86.6 263.0 77.5 257.1 67.0 247.4 58.5 243.2 48.8 237.0 47.5 235.0 46.9 229.5 44.9 225.5 42.1 223.0 38.0 221.6 38.0 21.0 426.0 21.0 426.0 294.6ZM95.6 212.5 102.5 210.1 107.5 210.4 108.5 208.5 109.2 202.5 108.0 198.7 100.4 185.0 98.0 182.3 95.0 181.4 90.3 182.5 82.5 188.5 81.1 190.5 80.0 196.0 80.5 198.0 84.2 203.5 87.7 211.0 91.0 212.8 95.6 212.5ZM203.5 276.0 193.5 275.3 191.7 274.0 186.5 267.5 183.0 265.0 181.5 264.7 178.5 265.1 174.0 261.2 165.5 261.1 162.5 259.9 161.0 258.5 160.9 256.0 163.5 248.4 163.6 246.5 161.0 241.8 156.1 236.5 155.5 234.5 157.7 230.0 161.0 226.3 167.0 217.5 169.0 216.8 177.0 216.2 194.0 216.9 208.5 219.8 216.5 223.5 218.5 226.0 220.2 230.5 221.5 232.0 239.5 237.7 242.0 239.1 243.7 241.0 244.7 243.5 246.3 251.5 249.2 258.0 248.4 261.5 246.7 264.5 243.5 265.5 237.0 264.2 228.5 264.2 223.0 263.1 220.5 263.3 212.5 269.0 207.5 274.1 203.5 276.0ZM350.0 395.0 346.5 395.5 341.5 394.6 335.5 394.7 332.5 393.9 323.0 388.2 311.0 382.9 308.2 380.5 306.0 377.0 300.7 362.0 298.6 346.0 299.3 339.0 300.7 334.0 305.8 327.0 307.0 324.0 309.5 322.0 309.9 321.0 309.5 319.6 308.0 319.2 307.1 320.0 306.0 322.4 304.5 322.5 301.9 321.0 300.4 318.5 301.0 316.6 304.7 312.5 305.7 304.0 306.5 302.7 308.0 301.7 314.0 300.0 318.0 301.5 320.5 304.0 323.8 311.0 326.1 314.0 338.5 322.3 344.5 323.6 358.5 323.6 369.5 325.4 378.5 327.8 385.0 330.3 391.2 334.5 398.3 344.5 398.9 347.5 396.4 353.5 395.7 364.0 394.8 368.5 393.2 372.0 388.8 377.5 384.5 381.9 382.0 383.5 372.0 386.9 358.5 393.6 350.0 395.0ZM40.0 386.1 38.0 386.4 38.0 321.8 41.5 320.9 47.0 318.4 55.5 316.4 65.0 317.0 69.5 317.9 82.1 324.0 85.0 324.4 90.5 324.1 94.0 325.3 99.0 328.4 103.0 332.1 108.0 335.5 114.7 343.5 115.4 345.5 115.0 347.7 109.8 353.0 104.8 362.5 102.5 364.9 95.0 370.3 93.0 370.9 79.0 371.2 73.0 374.4 65.5 380.4 63.5 380.8 58.5 380.4 54.5 380.8 47.5 384.8 40.0 386.1Z"/><path id="c13" d="M426.0 288.7 422.4 287.0 416.5 282.0 410.0 280.4 403.9 276.0 398.9 270.0 395.5 263.0 386.5 256.0 383.2 250.5 382.2 246.0 380.0 243.0 378.2 241.5 375.2 240.0 369.5 238.5 360.5 241.0 357.5 240.2 353.0 233.1 349.8 227.0 345.8 221.5 344.0 219.9 342.0 219.3 337.5 219.9 327.5 219.9 323.5 219.3 317.5 220.9 312.0 221.0 310.5 219.8 308.4 214.5 306.5 212.3 301.6 211.5 294.5 211.3 290.0 208.0 285.0 205.8 279.9 200.0 274.5 198.2 271.5 194.9 268.0 189.1 261.5 182.5 259.0 181.5 257.0 181.4 254.5 182.1 250.5 184.5 249.0 184.6 247.0 183.7 245.2 181.5 243.2 176.5 239.8 173.0 238.5 168.9 234.0 164.9 231.8 159.5 228.0 153.6 219.5 145.5 213.5 136.8 204.2 130.0 196.5 120.4 184.8 110.0 181.0 103.5 177.0 99.5 174.0 95.2 169.3 92.5 156.7 87.5 152.5 84.4 147.0 82.0 144.5 82.6 139.5 86.4 136.0 87.4 131.5 86.8 126.5 84.5 123.0 86.0 114.0 84.3 111.0 84.7 108.0 87.1 106.3 89.5 104.8 94.0 103.9 99.5 101.7 104.5 102.8 108.0 105.8 114.0 107.2 115.5 113.0 118.4 120.5 118.8 126.9 124.0 131.1 130.5 132.7 139.5 136.3 146.5 139.0 148.5 146.0 151.0 151.0 153.6 153.0 155.6 156.0 160.9 158.0 166.0 159.6 173.5 162.0 179.5 162.6 183.5 161.0 200.0 154.5 214.0 153.0 215.3 151.0 216.1 132.5 218.5 127.5 218.1 117.5 214.5 115.2 212.0 111.5 200.5 106.2 189.0 100.4 179.5 99.0 178.2 97.0 177.4 92.5 177.9 85.0 181.1 79.5 181.6 76.5 183.1 74.0 185.7 68.9 193.5 66.6 199.5 65.5 200.8 64.0 201.0 59.5 199.0 57.0 198.5 55.0 199.0 54.4 200.0 54.6 202.5 56.5 207.7 64.5 210.7 67.5 214.1 69.0 213.7 73.6 208.5 76.0 207.6 78.5 207.6 81.0 209.1 85.5 214.7 98.5 218.8 101.2 222.5 104.6 226.0 105.6 228.5 105.1 238.0 106.2 243.5 113.5 252.0 122.4 260.0 123.6 263.0 122.8 266.0 121.0 268.6 112.0 273.5 107.0 274.7 104.5 274.3 102.5 273.2 93.6 266.0 89.0 261.2 79.4 256.0 66.5 243.7 52.0 234.0 51.2 232.5 50.6 228.0 48.9 225.5 43.5 220.8 38.0 219.0 38.0 21.0 426.0 21.0 426.0 288.7ZM203.0 271.0 200.0 270.6 194.0 267.8 177.0 254.2 174.5 253.6 168.5 254.0 167.0 253.3 167.8 247.5 164.7 237.5 164.7 231.5 166.2 226.0 168.5 222.8 178.7 219.5 183.5 218.9 194.5 219.0 208.0 221.8 211.4 223.5 213.6 225.5 217.3 233.5 223.1 239.0 225.9 244.5 227.5 244.4 230.3 241.5 233.5 240.4 237.5 241.5 240.5 243.9 242.0 249.1 242.9 259.0 242.5 259.9 233.0 259.1 223.5 256.5 221.0 256.7 216.5 258.9 209.5 267.2 206.0 269.8 203.0 271.0ZM317.0 310.6 315.5 309.5 316.5 308.0 317.5 308.2 318.1 309.0 318.0 310.0 317.0 310.6ZM38.0 382.6 38.0 323.8 42.5 323.1 48.0 320.6 55.0 318.7 65.6 319.0 71.0 320.8 81.5 326.6 91.5 327.4 95.0 330.1 100.0 332.9 107.0 339.4 108.6 344.0 108.6 346.5 104.7 350.5 102.5 359.5 101.2 361.5 99.5 362.8 93.0 366.0 88.0 367.5 78.5 367.9 71.0 369.5 67.5 371.1 63.0 371.2 60.0 372.6 55.8 376.5 48.5 380.0 38.0 382.6ZM348.5 393.0 335.0 392.0 322.5 385.0 313.0 381.2 308.0 375.5 303.0 363.5 301.8 359.0 301.0 346.5 301.6 340.5 302.7 336.5 304.8 332.5 307.0 330.0 310.5 327.4 315.5 325.2 319.5 321.0 321.5 319.7 324.5 319.3 328.0 319.7 336.0 324.7 338.0 325.4 347.0 326.3 365.5 326.7 376.0 329.3 383.5 332.3 387.7 335.0 389.5 337.0 391.5 341.3 395.6 345.5 395.7 348.0 393.3 353.5 393.3 362.0 392.5 366.5 391.0 369.7 387.0 374.4 383.5 377.4 375.7 382.5 366.0 386.7 358.5 391.0 348.5 393.0Z"/><path id="c14" d="M426.0 281.5 423.5 280.0 419.6 276.5 414.5 275.5 412.0 274.4 406.0 268.7 402.2 266.5 401.2 261.0 394.5 252.0 392.4 245.0 389.0 241.0 386.0 238.6 373.5 234.5 369.0 233.7 365.0 234.0 363.5 233.6 358.0 229.1 353.6 223.5 346.0 216.8 344.0 215.7 341.5 215.1 336.0 215.6 326.0 214.1 320.0 215.0 318.0 214.8 314.0 213.0 310.0 209.0 303.5 207.6 296.5 207.9 285.3 201.0 281.0 195.6 273.5 190.9 269.0 186.5 263.9 176.0 256.7 169.5 254.0 164.3 253.0 163.8 249.5 164.6 242.5 164.1 239.0 163.2 236.5 161.8 231.0 152.6 222.5 144.7 218.5 137.7 216.0 134.3 205.0 127.3 197.2 117.5 187.1 108.5 184.1 102.5 181.0 98.0 177.5 90.4 175.5 89.0 165.7 85.5 162.6 83.5 161.7 82.0 161.7 80.0 164.9 76.5 165.5 74.5 164.5 72.0 162.5 70.8 161.0 71.2 158.5 73.1 154.0 73.9 148.5 76.5 141.0 77.9 137.5 82.4 135.5 83.2 133.5 82.6 127.0 78.8 118.5 79.0 117.5 78.3 115.9 75.0 114.0 73.1 111.7 72.0 109.5 72.1 105.9 74.5 102.6 82.0 98.8 84.5 96.8 87.5 93.8 90.0 92.5 92.0 92.1 94.0 92.8 98.0 94.6 102.0 95.2 107.0 97.0 110.6 101.0 113.5 104.0 117.9 107.5 120.2 110.5 121.6 118.0 122.9 121.0 124.7 123.0 126.7 127.2 134.5 126.7 144.5 127.3 146.0 133.5 149.6 144.5 153.0 148.7 155.0 151.5 157.3 154.7 162.0 156.2 166.0 157.2 173.0 159.8 181.0 160.2 184.5 159.8 194.0 158.9 199.5 154.7 209.0 152.5 212.3 151.0 213.3 148.5 213.9 138.5 215.3 131.0 215.6 128.0 215.2 120.2 212.0 118.5 210.1 115.9 205.5 108.6 187.5 105.6 183.5 101.5 176.4 99.5 174.3 97.5 173.2 94.0 173.5 86.0 177.6 79.5 177.6 75.5 178.5 74.0 179.7 70.5 184.6 65.5 188.1 63.5 188.0 58.5 186.4 54.0 182.5 51.0 181.6 48.2 182.0 43.5 184.1 41.2 187.0 41.9 189.0 45.8 192.5 46.3 196.0 49.9 203.5 49.7 210.5 50.5 212.1 52.5 213.9 58.0 217.4 62.5 218.8 66.0 222.7 67.5 223.3 82.5 220.1 88.5 219.5 90.5 220.5 100.2 228.0 101.1 230.0 101.5 238.0 103.1 244.5 116.7 260.0 118.7 263.5 117.6 266.0 111.0 271.2 107.0 272.0 103.0 270.5 95.5 264.9 90.5 258.2 82.0 254.9 80.0 253.7 72.6 246.5 68.0 240.8 64.0 237.3 58.0 233.4 55.4 229.0 54.7 220.5 54.0 219.1 53.0 218.8 49.0 219.7 46.5 218.5 41.5 214.9 38.0 214.4 38.0 21.0 426.0 21.0 426.0 281.5ZM270.1 146.5 283.3 143.5 285.4 142.5 286.6 141.0 287.0 139.5 286.7 137.5 285.5 135.5 283.5 134.4 280.0 134.7 278.3 135.5 274.5 138.8 269.0 140.8 267.7 142.5 267.6 144.5 268.5 146.1 270.1 146.5ZM203.5 267.0 201.5 267.2 199.5 266.4 186.2 258.0 178.0 249.9 173.0 246.6 171.0 243.7 169.5 238.5 170.1 234.5 173.9 228.0 181.0 222.2 186.0 221.1 193.0 221.1 198.5 221.9 208.0 224.6 211.0 227.4 217.8 240.5 218.4 244.0 216.3 252.5 210.5 260.8 206.0 265.5 203.5 267.0ZM38.5 376.5 38.0 376.6 38.0 325.6 43.4 325.0 55.5 321.1 64.5 320.9 70.5 322.8 81.0 328.7 90.0 330.7 93.3 333.5 97.9 335.5 99.3 337.0 101.8 341.5 102.4 343.5 100.1 349.0 98.8 356.5 97.5 358.6 93.5 360.3 89.6 364.0 86.0 365.1 79.5 364.7 63.0 366.0 56.5 369.2 53.0 372.7 49.5 374.6 46.5 375.6 42.0 375.7 38.5 376.5ZM347.5 390.5 336.4 389.5 323.5 382.9 315.5 379.7 310.0 373.9 304.5 362.0 303.5 358.0 303.2 346.5 304.0 341.2 305.4 337.5 307.8 333.0 310.0 330.6 317.0 328.3 323.0 324.0 325.0 323.9 330.5 325.0 338.0 328.0 352.0 328.6 364.0 328.4 371.6 330.0 379.9 333.5 385.0 336.7 386.5 338.5 388.4 343.0 391.6 346.5 391.8 348.0 390.3 354.5 390.2 364.0 388.6 367.5 385.1 372.0 373.6 380.5 364.5 384.1 357.5 388.6 355.0 389.4 347.5 390.5Z"/><path id="c15" d="M426.0 272.7 416.5 269.2 410.3 264.0 406.5 256.0 406.4 254.0 408.0 249.5 407.4 247.5 406.0 246.1 399.5 244.4 389.3 236.0 374.0 230.3 369.0 223.8 364.5 222.7 360.5 220.2 352.0 216.9 346.0 213.0 338.0 210.8 332.5 210.6 329.0 208.9 319.5 209.9 312.0 206.2 303.5 203.9 298.5 203.9 296.5 203.3 293.7 201.0 291.2 196.5 286.5 194.6 281.0 190.2 274.5 187.5 271.6 185.0 269.4 180.5 268.2 173.0 267.0 171.4 262.9 168.0 262.1 166.0 261.6 162.0 259.0 159.3 256.0 157.4 253.5 157.0 249.5 157.5 242.5 160.0 240.5 159.8 239.0 159.1 232.6 150.0 228.0 146.5 224.5 143.0 218.0 131.7 215.0 129.4 208.5 126.6 205.5 124.7 199.5 116.7 189.4 106.5 184.3 94.0 181.1 88.0 178.9 86.0 173.5 83.4 171.1 81.0 170.7 79.0 171.3 74.0 170.6 66.5 169.0 63.0 167.5 61.7 165.0 62.0 160.5 65.0 154.0 67.5 148.5 71.2 145.0 72.1 142.0 72.1 135.0 70.7 129.0 72.6 123.0 72.6 119.0 71.6 112.0 68.7 105.0 70.0 101.0 71.9 97.5 75.0 90.9 84.5 86.8 88.5 84.9 92.0 85.2 93.5 87.4 97.0 88.1 103.0 88.0 109.0 89.5 112.2 95.5 117.7 111.5 129.7 114.0 130.4 118.5 129.1 120.6 130.5 121.5 134.0 120.3 140.0 120.5 147.0 121.9 150.0 124.5 151.2 131.0 151.8 144.5 155.2 149.5 158.1 152.9 162.5 154.3 166.0 154.9 172.5 157.8 182.5 157.8 192.0 157.4 197.0 156.3 201.0 153.0 208.0 151.0 210.5 147.0 212.1 138.0 213.3 129.0 212.3 124.8 211.0 122.4 209.5 119.6 206.0 114.7 197.0 110.9 186.5 106.4 180.5 103.6 174.0 102.8 167.0 101.9 165.5 100.5 164.6 97.0 165.7 88.0 173.4 85.0 174.7 66.0 175.9 62.6 171.0 61.0 170.1 59.0 169.8 56.5 170.6 53.5 173.6 51.5 174.6 44.5 176.5 38.0 176.6 38.0 21.0 426.0 21.0 426.0 272.7ZM315.9 112.5 317.5 110.6 317.5 107.9 315.5 105.6 313.5 104.6 312.5 104.7 311.8 107.0 313.0 111.3 314.0 112.5 315.9 112.5ZM270.2 151.5 274.5 149.6 284.0 146.8 290.0 143.8 298.1 135.5 306.0 126.2 307.4 121.0 308.9 118.0 308.6 117.0 304.5 116.7 300.5 117.3 298.5 118.8 296.4 122.5 294.0 124.1 277.0 130.9 271.0 130.7 269.0 131.6 262.3 140.0 261.0 143.0 260.7 146.0 261.7 149.0 264.0 151.2 266.5 151.9 270.2 151.5ZM43.5 208.5 40.0 207.8 38.0 208.0 38.0 197.5 43.0 201.0 44.3 202.5 44.8 206.0 44.4 207.5 43.5 208.5ZM203.0 262.1 199.5 262.2 192.5 259.1 186.0 254.0 179.5 245.7 176.0 242.5 175.7 240.5 178.2 231.5 180.2 227.0 182.5 224.8 185.5 223.8 189.5 223.3 199.0 224.3 206.5 227.2 210.7 232.5 214.2 241.0 213.6 248.5 212.3 251.5 207.4 258.5 203.0 262.1ZM107.5 268.1 104.5 267.7 97.0 262.4 95.9 260.5 94.5 254.7 93.5 253.0 92.5 252.6 86.5 252.8 82.6 252.0 80.0 250.1 74.0 244.1 69.0 237.0 68.6 235.5 69.6 232.5 73.5 228.2 78.5 225.5 85.5 224.7 90.5 227.3 96.5 231.5 98.0 235.5 98.1 243.5 98.9 246.5 106.4 254.0 111.7 261.5 111.0 264.5 109.0 267.2 107.5 268.1ZM43.0 367.6 38.0 367.6 38.0 327.3 44.0 326.7 55.5 323.7 62.5 323.0 66.5 323.5 70.5 324.9 85.3 333.0 94.0 339.9 95.5 347.0 95.3 349.5 93.5 352.4 88.9 356.0 87.5 360.3 86.5 361.3 60.0 362.4 51.0 365.1 47.0 365.4 43.0 367.6ZM346.0 387.6 342.5 387.5 337.0 386.4 318.5 378.6 314.5 375.5 310.0 369.5 307.6 365.0 305.7 359.0 305.4 347.5 307.0 341.2 310.0 334.7 312.0 332.5 323.0 328.8 329.0 327.9 338.5 330.3 364.0 330.2 370.5 331.8 377.6 335.0 381.0 337.4 383.8 340.5 387.4 347.5 387.9 350.0 387.2 363.0 384.5 368.1 380.6 372.0 370.5 379.1 363.0 381.9 354.7 386.5 346.0 387.6Z"/><path id="c16" d="M426.0 267.6 421.5 265.9 415.0 260.5 414.3 259.0 414.0 254.0 412.8 249.5 407.0 240.9 396.5 236.2 392.0 232.2 384.0 230.7 377.8 228.0 376.5 226.5 375.0 223.0 372.2 219.5 370.0 214.5 365.5 211.3 361.0 210.7 359.0 208.5 355.9 206.5 351.0 200.8 349.0 200.3 343.0 200.6 335.5 201.4 328.5 203.1 317.0 203.7 310.0 202.6 300.0 198.8 298.6 197.5 296.7 194.0 295.0 192.6 286.0 189.4 278.0 184.8 276.7 183.5 273.8 175.5 268.4 166.0 267.9 162.0 268.5 158.2 270.3 156.0 273.5 153.9 290.9 146.0 302.5 136.6 307.0 134.3 308.5 133.0 314.0 122.0 320.3 114.0 321.9 110.5 322.7 106.5 322.5 103.8 321.0 101.0 318.4 98.5 315.0 97.0 310.5 97.3 308.0 98.2 306.8 99.5 306.3 101.0 306.9 109.5 306.0 111.4 299.5 112.6 297.5 113.4 295.5 115.5 293.0 120.4 289.0 122.7 282.5 124.0 276.0 126.5 269.0 127.2 266.5 128.4 264.7 130.0 262.4 134.0 260.0 136.9 255.5 141.0 250.5 144.4 244.0 151.3 242.5 151.7 236.5 148.3 226.5 141.3 224.4 138.5 221.6 132.0 219.6 129.5 215.5 126.0 208.5 123.7 206.0 122.2 201.0 115.3 195.8 109.5 192.6 102.5 191.7 94.5 187.8 86.0 186.0 84.0 180.0 80.8 178.5 79.0 178.5 76.5 180.0 70.5 177.0 62.1 176.8 59.5 177.5 58.4 180.5 58.0 180.7 57.0 178.8 53.5 177.5 52.3 169.0 52.4 164.0 50.9 162.5 51.0 161.0 52.5 158.7 58.0 155.2 61.5 152.4 63.5 148.0 65.1 144.5 67.3 134.5 66.6 126.5 68.6 121.0 67.9 114.3 66.0 107.0 66.3 96.5 65.0 87.0 66.2 82.3 69.5 77.0 75.1 73.4 77.5 72.3 80.0 72.7 81.0 73.5 81.4 76.5 80.2 79.5 81.0 81.6 83.0 81.6 85.0 80.0 86.0 72.5 86.4 70.5 87.2 68.1 93.5 68.9 98.5 74.3 104.5 81.0 108.5 85.5 114.0 90.5 117.9 95.5 124.6 99.5 128.5 100.9 133.0 102.0 134.5 103.5 135.3 107.5 135.7 108.5 136.5 108.5 137.5 105.2 141.0 104.3 145.0 102.0 148.5 100.1 153.5 97.0 159.5 90.5 166.8 85.5 170.8 78.0 172.2 73.5 172.0 69.9 170.0 64.5 163.9 62.0 163.1 56.5 162.7 54.0 163.6 46.0 171.2 38.0 172.8 38.0 62.7 41.3 60.5 42.5 58.5 41.3 56.5 38.0 54.9 38.0 25.2 42.0 27.5 44.5 27.5 47.5 24.5 49.2 21.0 426.0 21.0 426.0 267.6ZM146.9 56.5 148.5 55.3 150.5 51.3 154.8 48.0 154.8 46.0 154.0 43.5 153.0 41.7 151.5 40.7 149.5 41.0 147.5 42.3 146.0 44.0 144.9 46.5 143.9 51.5 143.8 54.5 145.0 56.5 146.9 56.5ZM141.0 211.5 130.0 210.3 126.5 209.1 124.0 207.5 116.5 195.5 112.4 185.5 108.8 180.5 107.3 177.0 106.1 172.0 107.1 162.5 110.5 159.5 120.0 154.8 131.0 154.2 143.0 156.7 148.5 159.8 151.6 164.5 152.7 172.0 155.8 183.5 155.9 191.5 155.4 197.5 153.5 203.1 150.0 208.2 147.0 210.0 141.0 211.5ZM200.5 258.5 195.5 257.6 191.5 255.0 187.5 251.0 184.4 245.5 183.4 242.0 182.4 234.0 184.9 229.0 188.3 226.5 190.5 226.1 197.0 226.4 201.0 227.4 205.3 230.0 209.0 235.0 209.9 241.0 208.5 248.8 203.4 257.0 202.0 258.2 200.5 258.5ZM86.5 247.1 83.0 247.3 80.0 245.6 76.2 242.0 73.9 237.5 73.5 235.5 74.1 234.0 76.5 231.7 79.5 229.9 84.0 229.0 88.0 229.9 92.7 234.0 94.7 237.0 94.8 240.0 93.0 243.3 90.5 245.3 86.5 247.1ZM40.0 363.0 38.0 363.5 38.0 328.9 48.5 327.8 54.0 326.5 62.5 325.3 68.0 325.8 71.0 327.1 81.7 334.0 89.2 341.5 90.6 344.0 91.3 347.0 90.7 349.0 86.5 353.4 84.0 357.4 82.5 358.4 75.5 359.0 59.0 359.1 51.5 361.1 44.5 361.2 40.0 363.0ZM345.0 384.6 342.0 384.6 337.0 383.3 321.0 377.3 316.2 374.0 310.5 366.9 309.1 364.0 308.1 360.0 308.2 354.0 307.6 348.0 308.5 344.6 311.8 338.0 314.3 335.0 322.0 332.2 329.0 331.2 340.5 332.6 347.5 332.0 362.5 332.0 369.5 333.7 376.4 337.0 379.2 339.0 381.7 342.0 384.7 349.5 385.1 356.0 383.9 363.0 381.1 367.5 376.5 372.0 368.5 377.5 353.5 382.7 345.0 384.6Z"/><path id="c17" d="M426.0 260.6 424.1 258.0 423.7 252.5 423.0 250.5 422.0 249.5 418.0 247.9 414.1 244.0 410.5 238.9 403.0 235.2 398.5 232.4 395.0 229.4 391.0 228.4 385.0 227.9 381.0 225.6 375.8 214.5 371.6 210.5 367.7 205.5 363.0 204.0 359.0 202.0 352.5 196.5 345.5 194.6 342.0 195.0 335.5 197.6 330.0 198.1 325.0 199.3 315.5 198.7 310.5 199.0 308.5 198.6 304.0 196.0 298.0 190.4 286.0 185.5 283.0 182.0 280.5 177.2 274.9 170.5 273.9 167.5 273.6 162.0 274.1 159.0 275.3 157.0 309.5 136.6 314.0 130.9 318.0 127.0 319.6 124.0 321.0 119.5 325.2 112.0 327.0 107.5 327.2 104.5 326.2 100.0 326.6 95.5 326.1 94.0 325.0 93.1 316.5 91.4 311.0 93.1 305.5 95.7 303.5 97.3 302.5 99.0 302.3 105.0 301.7 107.0 300.5 108.1 294.5 111.0 289.5 118.2 286.0 120.1 276.5 122.9 269.0 123.8 265.0 124.9 261.5 128.0 258.0 133.6 246.0 143.0 243.0 144.4 239.5 144.2 236.5 143.2 228.0 138.7 224.3 131.5 220.5 126.5 216.5 123.6 209.5 121.4 206.9 120.0 204.6 117.5 198.8 109.0 197.8 106.0 196.0 91.5 192.5 86.9 189.5 81.2 185.2 76.0 187.2 70.0 186.6 64.5 188.3 58.5 188.0 53.7 185.5 47.5 183.0 44.7 178.2 37.5 176.5 36.1 173.5 35.4 171.6 36.0 170.8 37.5 171.1 42.0 170.7 43.5 169.0 44.4 166.0 44.9 161.5 44.6 159.5 43.9 156.3 38.5 153.5 36.0 151.5 35.5 149.0 36.4 145.0 39.9 142.9 43.0 139.5 52.9 137.7 61.0 136.0 62.5 132.0 64.2 128.0 65.2 124.5 65.4 116.5 63.8 108.0 63.8 100.0 62.1 87.5 62.8 83.5 64.0 75.0 69.5 73.0 69.7 68.5 68.9 63.0 71.9 60.5 70.5 56.8 64.0 54.9 56.0 54.8 50.5 53.5 48.2 51.5 47.3 49.0 47.1 44.0 49.8 38.0 49.8 38.0 37.0 40.5 36.3 43.2 34.0 47.5 32.3 50.0 30.6 57.2 21.0 426.0 21.0 426.0 260.6ZM78.5 169.0 75.5 169.0 73.5 168.2 67.5 162.0 65.0 160.5 54.5 158.2 49.5 158.2 47.0 157.5 46.6 158.0 47.1 161.5 46.2 163.5 43.0 165.9 38.0 167.8 38.0 152.8 41.0 152.0 38.0 146.1 38.0 67.2 42.0 68.2 46.0 73.0 52.5 76.8 57.6 81.5 58.5 83.1 59.0 88.4 61.4 94.5 63.0 100.5 67.5 107.5 69.1 109.0 73.6 111.5 79.6 116.5 87.5 119.7 91.2 124.5 94.7 131.0 98.1 145.5 97.4 148.0 95.0 151.9 94.1 157.0 91.0 161.0 86.0 165.6 81.9 168.0 78.5 169.0ZM142.0 209.5 139.0 209.7 131.5 208.6 127.9 207.5 125.7 206.0 117.6 193.0 113.5 184.1 110.3 179.0 108.5 172.0 110.0 165.0 113.7 161.5 121.0 157.7 130.5 156.4 139.0 157.7 143.0 158.8 146.0 160.4 147.8 162.0 149.2 164.5 154.0 184.0 153.9 196.0 152.4 201.0 149.5 205.2 146.5 207.8 142.0 209.5ZM199.5 254.1 197.0 254.0 195.0 253.3 190.5 249.0 188.4 245.5 187.5 240.5 187.5 237.2 188.5 235.0 192.7 231.0 197.0 229.3 199.5 229.6 202.0 231.1 205.0 234.5 205.9 237.0 205.7 239.5 202.6 251.0 201.4 253.0 199.5 254.1ZM84.0 242.6 82.0 242.4 80.5 241.6 78.1 238.0 78.5 235.3 81.5 233.4 84.0 233.3 86.5 234.1 88.5 235.5 89.9 237.5 89.9 239.0 89.0 240.0 84.0 242.6ZM39.5 359.6 38.0 360.0 38.0 330.6 49.5 329.9 55.0 328.8 59.5 328.6 64.5 327.4 67.5 327.5 70.6 329.0 80.0 336.3 85.4 344.0 85.8 346.5 85.3 349.0 83.5 352.3 81.5 354.0 77.0 354.0 63.5 355.9 57.0 356.1 50.0 357.6 44.0 358.1 39.5 359.6ZM344.0 381.6 341.0 381.6 334.5 380.0 322.5 375.6 317.5 372.4 312.0 365.9 310.7 363.5 310.1 360.5 310.6 354.0 310.2 348.5 311.0 346.0 315.5 339.2 319.5 335.9 323.5 334.5 330.0 333.9 341.5 334.6 347.5 333.7 360.0 333.7 363.0 334.1 367.5 335.5 376.0 339.6 380.0 344.5 382.2 353.5 381.5 360.5 377.7 367.0 373.9 371.0 367.3 375.5 355.6 377.5 344.0 381.6Z"/><path id="c18" d="M426.0 240.4 418.0 239.0 413.0 236.3 405.5 233.4 397.5 226.7 390.5 225.0 386.9 223.5 385.9 222.0 384.8 218.0 381.0 212.5 374.8 209.0 372.0 204.0 370.5 202.4 367.5 200.5 361.5 198.2 354.5 191.8 351.0 190.9 347.0 188.5 345.0 188.1 342.5 188.8 338.7 192.0 336.0 193.0 327.5 193.0 323.0 192.0 313.5 193.7 309.0 193.2 304.5 191.3 299.5 187.6 289.5 183.9 279.7 172.0 278.2 169.0 277.3 164.0 277.7 160.0 279.3 157.5 293.5 148.5 309.3 141.0 316.0 134.3 321.5 133.0 324.1 131.0 326.5 117.5 330.7 110.0 331.5 106.5 329.7 93.0 328.0 90.3 324.5 87.9 319.0 85.9 316.0 85.4 313.5 86.3 308.5 89.3 299.0 96.5 298.5 98.0 298.9 102.5 298.1 104.5 296.5 105.7 291.5 107.4 289.2 113.0 286.0 116.4 282.5 118.0 264.0 122.0 254.5 131.8 246.5 137.9 242.5 139.8 238.5 139.8 231.3 136.5 221.0 123.3 208.5 118.3 206.5 116.7 204.8 114.5 200.7 105.5 200.9 99.0 201.9 93.0 201.6 91.0 200.5 89.2 195.5 85.0 191.1 75.0 190.4 65.0 191.3 54.0 189.6 46.5 185.5 40.3 181.5 32.7 179.5 30.8 176.2 29.5 173.8 27.0 172.5 26.7 171.0 27.2 165.3 31.0 163.3 34.0 162.0 34.9 160.0 34.5 157.4 31.0 155.6 30.0 151.5 30.1 148.5 31.5 144.3 35.5 141.5 39.9 134.5 58.7 130.5 61.6 124.5 62.7 117.0 61.8 109.0 61.5 98.0 59.2 86.0 60.1 81.0 59.5 77.0 60.5 75.0 60.2 69.5 55.5 64.5 54.3 61.6 52.0 59.5 48.9 56.9 43.5 53.6 39.0 52.9 36.5 53.3 34.5 57.8 27.5 60.0 26.1 65.0 24.1 68.3 21.0 176.4 21.0 176.0 22.0 177.0 23.2 177.9 22.5 177.6 21.0 326.5 21.0 327.0 22.5 327.3 21.0 426.0 21.0 426.0 240.4ZM79.0 165.1 76.5 165.1 74.5 164.5 66.5 158.3 57.5 155.8 50.6 152.5 44.5 147.5 42.4 143.5 40.3 137.0 38.0 134.6 38.0 70.9 39.5 71.6 42.7 75.5 53.1 84.0 57.0 93.0 60.5 103.2 64.5 109.5 69.5 115.0 74.5 121.6 76.5 123.0 85.5 125.6 90.2 132.5 91.0 135.5 90.8 140.0 91.7 144.0 90.6 156.0 89.2 158.0 84.5 162.4 79.0 165.1ZM363.6 90.5 366.5 89.1 369.0 86.0 370.1 83.0 369.5 80.4 367.5 78.9 365.0 78.5 361.0 78.5 356.0 79.6 355.1 80.5 354.8 82.0 356.2 86.0 359.8 89.5 363.6 90.5ZM140.5 207.5 132.5 206.8 127.4 204.5 118.5 190.7 112.5 179.0 110.9 172.5 112.0 167.7 115.5 163.5 121.5 160.2 125.0 159.2 130.5 158.7 137.5 159.3 144.3 162.0 146.0 163.6 147.4 166.0 152.4 184.5 152.7 189.5 152.0 196.5 150.6 200.5 147.5 204.2 144.5 206.3 140.5 207.5ZM196.5 246.5 195.0 245.7 194.3 244.0 194.7 242.5 196.0 241.4 197.5 242.3 198.2 244.0 197.9 245.5 196.5 246.5ZM38.0 356.5 38.0 332.4 51.5 332.4 60.5 331.6 65.0 330.0 67.0 330.0 69.9 332.0 78.2 343.5 78.0 345.8 75.9 347.5 66.0 350.7 63.0 352.2 56.0 352.8 49.5 354.7 43.5 355.0 38.0 356.5ZM345.0 378.5 342.0 378.7 335.5 377.8 324.5 374.1 318.3 370.5 313.2 364.0 312.2 360.0 313.7 350.5 322.0 338.6 324.0 337.4 329.0 336.5 342.0 336.3 348.5 335.6 357.5 335.9 363.5 336.8 374.0 342.2 376.4 345.0 377.5 347.5 378.1 358.5 377.4 361.5 374.5 366.3 370.5 370.0 365.1 373.5 355.5 374.0 345.0 378.5Z"/><path id="c19" d="M123.0 60.5 111.5 59.5 98.5 56.7 85.5 56.8 73.0 53.0 65.5 49.7 61.8 46.5 58.2 39.0 58.0 37.0 58.6 35.0 61.5 30.4 70.9 24.0 73.5 21.0 156.5 21.0 153.2 24.5 147.5 28.1 141.0 34.0 136.9 45.5 131.6 57.5 128.5 59.6 123.0 60.5ZM413.0 232.0 410.0 232.0 407.4 231.0 404.6 229.0 400.0 224.2 393.5 221.2 392.2 219.5 391.2 215.0 388.3 211.5 378.3 206.0 374.0 200.4 367.5 195.3 362.0 192.8 355.5 188.6 347.5 185.1 345.0 184.6 340.5 185.7 335.0 188.5 324.5 187.7 315.0 189.8 310.5 189.6 302.9 185.5 291.0 181.6 288.5 179.3 282.0 171.0 280.5 166.5 280.4 162.5 281.7 159.0 284.2 156.5 294.5 149.8 304.0 145.8 311.0 143.6 317.0 139.6 322.0 139.8 324.0 139.3 326.1 137.5 329.5 132.3 332.1 129.5 331.9 121.5 333.9 114.5 334.9 107.5 333.4 95.0 332.2 90.5 331.1 87.5 330.0 86.2 326.5 84.1 321.0 82.3 315.5 76.5 313.0 75.9 308.0 76.2 305.0 77.1 302.5 78.6 301.8 80.0 302.1 84.5 301.5 86.5 300.0 88.1 294.5 91.8 292.5 94.0 291.3 97.0 291.7 101.0 289.0 104.0 285.0 111.5 283.0 114.0 280.5 115.4 273.5 116.5 262.5 119.8 250.0 130.0 245.4 135.0 243.5 136.1 240.0 136.2 236.7 135.0 229.0 129.4 224.2 123.0 222.0 121.0 216.0 117.8 210.5 116.4 208.0 115.0 206.0 112.0 203.4 104.5 203.5 99.5 205.1 92.5 204.8 90.0 203.0 86.7 198.8 83.0 194.8 74.5 193.5 63.0 194.0 51.0 189.8 36.0 189.5 31.1 188.5 29.9 185.1 28.0 184.1 26.5 184.0 24.5 185.2 21.0 320.1 21.0 320.6 26.5 322.0 30.5 321.9 35.0 322.7 38.0 325.7 43.0 327.4 44.0 329.5 44.3 334.3 43.0 340.5 39.0 345.5 38.4 347.0 38.8 349.6 42.0 352.0 43.2 354.0 43.0 359.0 40.2 366.5 42.6 370.0 42.6 370.4 42.0 370.5 37.1 373.3 32.5 375.8 29.5 376.6 27.5 376.6 25.5 375.0 21.0 426.0 21.0 426.0 182.3 424.5 183.0 423.7 184.5 424.4 186.5 426.0 187.8 426.0 226.7 421.0 227.6 417.0 230.7 413.0 232.0ZM341.5 31.3 340.0 31.3 338.5 30.0 334.6 21.0 358.7 21.0 356.5 23.3 345.0 27.8 341.5 31.3ZM363.7 94.0 366.0 93.4 368.5 92.0 372.0 87.9 373.2 84.0 372.6 79.0 370.0 76.3 367.0 74.7 357.0 74.6 353.5 75.4 348.1 80.0 348.1 81.5 358.0 92.1 361.0 93.8 363.7 94.0ZM75.5 157.5 72.5 157.3 60.0 153.5 53.5 150.5 48.3 145.0 41.5 132.5 39.7 130.5 38.0 129.6 38.0 75.9 43.0 79.4 51.2 87.0 54.2 93.0 58.3 104.5 63.5 114.3 67.0 118.9 68.7 124.0 70.5 127.0 74.5 130.0 76.0 130.5 79.5 130.4 81.4 132.0 82.4 136.0 82.3 138.0 81.0 140.2 77.8 143.0 77.2 145.0 77.7 147.0 80.6 151.5 80.4 155.0 79.5 156.6 75.5 157.5ZM408.1 169.5 411.9 167.5 413.4 166.0 413.3 163.0 411.5 160.7 402.0 161.2 399.0 162.6 396.9 165.0 396.8 167.0 398.5 168.5 404.0 169.9 408.1 169.5ZM138.5 205.5 132.5 204.8 128.0 202.0 118.5 187.4 114.7 179.0 113.5 172.5 114.4 168.5 117.2 165.0 122.5 162.2 128.5 161.0 136.5 161.2 142.7 164.0 144.2 165.5 145.5 168.0 150.8 184.5 151.1 189.5 150.5 196.0 149.1 199.5 145.5 203.2 142.5 204.8 138.5 205.5ZM39.5 353.1 38.0 353.4 38.0 334.2 56.5 336.0 61.0 338.6 64.5 339.1 65.9 340.5 66.1 341.5 65.5 342.5 59.5 344.4 56.3 348.0 54.2 349.5 49.0 351.8 39.5 353.1ZM344.5 375.6 337.0 375.1 327.8 373.0 320.5 369.4 318.0 367.0 315.3 361.5 315.3 358.0 317.3 351.5 321.2 345.0 323.5 342.1 325.5 340.7 328.0 339.9 338.0 338.2 348.0 337.6 354.5 337.8 358.0 338.7 366.0 343.7 372.5 346.9 373.5 349.1 373.7 357.0 373.3 360.0 372.0 362.1 364.5 368.9 362.5 369.5 355.5 369.6 349.7 373.5 344.5 375.6Z"/><path id="c20" d="M122.5 58.5 113.5 57.8 100.0 54.6 86.0 54.1 74.3 50.0 67.4 47.0 64.0 44.5 61.8 40.0 62.1 36.0 65.0 31.5 74.2 25.0 77.2 21.0 148.0 21.0 142.0 27.3 138.2 32.5 134.7 45.0 129.5 55.5 127.0 57.4 122.5 58.5ZM426.0 223.1 421.5 222.7 417.0 220.8 412.0 220.0 410.0 220.3 407.0 221.5 405.0 221.2 398.6 217.0 396.8 211.0 395.0 208.8 388.0 205.8 381.7 201.0 375.5 197.3 369.5 191.6 362.0 189.1 356.5 186.1 346.5 181.6 341.0 180.6 332.5 183.7 326.0 183.9 315.5 186.0 312.5 186.1 305.0 182.3 297.0 181.3 292.5 179.6 289.2 176.5 283.6 168.0 283.0 163.5 284.3 159.5 287.8 156.0 295.0 151.6 303.5 147.8 316.5 143.9 323.5 143.6 332.0 138.2 338.5 135.6 339.9 134.5 340.1 131.5 337.1 124.0 338.4 119.5 338.6 112.5 338.3 107.0 336.6 101.0 336.5 95.5 335.7 91.0 335.9 88.5 336.9 86.5 339.5 85.8 344.0 87.0 360.0 96.6 363.0 97.0 366.5 96.4 372.1 93.5 375.7 88.0 376.9 79.5 376.3 77.0 375.0 75.1 369.5 72.0 361.5 70.1 348.5 74.4 341.0 74.7 334.5 79.0 331.0 79.8 326.7 79.0 324.4 78.0 323.5 76.5 323.0 72.1 318.5 69.9 316.5 69.8 313.0 71.0 306.5 72.3 299.0 76.0 297.5 78.0 295.2 83.0 289.9 88.5 286.4 96.0 283.7 106.0 280.5 111.1 279.0 111.9 273.8 113.0 258.0 118.9 253.0 122.6 247.5 125.3 243.0 130.7 240.0 131.1 231.0 126.2 227.1 122.0 219.0 115.3 210.0 112.7 208.5 111.1 207.5 109.0 206.2 104.5 206.0 101.0 208.7 92.5 208.7 88.5 206.8 84.5 202.5 80.6 198.6 74.5 197.4 71.5 196.5 66.3 196.1 60.5 196.7 52.0 195.5 43.0 198.0 33.0 198.8 27.0 197.4 21.0 235.6 21.0 235.6 23.5 236.5 24.4 237.5 24.6 240.5 23.4 242.3 21.0 314.3 21.0 314.2 29.0 316.1 37.0 316.0 42.5 318.0 45.0 323.5 48.2 327.0 48.7 336.5 45.4 339.5 45.0 344.0 45.8 347.6 48.5 349.5 49.2 356.5 48.2 361.5 48.2 373.5 49.6 376.0 48.8 381.9 44.0 385.0 37.7 381.9 34.0 381.7 26.0 379.5 21.0 426.0 21.0 426.0 179.1 422.0 180.5 420.8 182.0 420.3 184.0 421.5 188.3 426.0 194.7 426.0 223.1ZM68.5 151.6 62.0 151.0 55.5 147.2 53.0 144.7 51.7 142.5 49.6 136.5 49.3 131.5 48.5 129.4 47.0 128.4 38.0 126.6 38.0 79.4 41.5 81.4 47.3 87.0 51.4 92.5 58.7 111.5 60.5 117.8 64.2 124.0 71.9 133.5 73.3 136.0 73.8 139.0 72.6 145.0 70.9 150.0 70.0 151.0 68.5 151.6ZM407.1 173.0 417.5 169.9 420.8 166.5 420.9 165.0 417.7 159.0 414.5 156.2 411.5 156.0 401.5 158.7 395.8 161.5 392.9 165.0 393.0 168.5 395.5 171.6 400.0 173.0 407.1 173.0ZM139.5 203.5 134.0 203.2 129.0 200.4 125.0 195.5 118.8 184.5 116.3 177.5 115.8 172.0 117.4 168.0 121.5 165.1 128.5 163.2 133.5 163.0 136.5 163.6 141.4 166.5 145.8 174.0 149.4 185.0 148.9 195.5 147.9 198.0 145.0 201.0 142.5 202.6 139.5 203.5ZM39.5 350.1 38.0 350.4 38.0 336.7 48.0 338.8 51.3 341.0 51.7 343.5 50.3 345.5 45.5 348.3 39.5 350.1ZM331.5 370.5 328.0 370.0 321.5 366.6 320.0 365.0 318.7 361.5 318.7 358.0 320.4 354.0 321.6 349.5 323.5 346.1 325.5 344.3 339.0 340.2 351.6 340.0 355.5 341.4 359.5 344.9 365.5 348.5 367.3 350.5 367.5 353.0 365.5 359.0 364.0 362.3 363.0 363.3 362.0 363.5 357.5 362.3 353.5 362.5 350.7 364.0 348.5 368.2 346.5 369.6 331.5 370.5Z"/><path id="c21" d="M122.0 56.6 114.5 56.2 101.5 52.5 95.0 51.8 88.5 51.9 83.5 50.7 69.5 43.7 66.3 39.0 66.6 35.0 69.0 31.6 77.8 25.0 80.6 21.0 94.7 21.0 99.5 24.0 103.5 24.7 114.5 22.1 121.0 22.3 126.0 21.9 128.1 21.0 138.0 21.0 136.4 25.0 133.7 39.5 131.8 46.0 127.0 54.1 125.0 55.6 122.0 56.6ZM241.0 123.5 237.0 123.2 232.5 120.3 226.8 118.0 222.0 113.1 212.0 109.0 210.5 107.7 209.6 106.0 209.0 100.5 212.3 92.0 212.5 87.0 210.7 83.0 203.5 76.2 200.8 72.0 199.2 64.0 199.1 52.0 198.2 46.5 198.4 44.0 199.3 41.5 201.5 37.6 204.4 34.0 203.6 28.5 204.5 21.5 204.8 21.0 208.0 21.0 210.2 24.0 213.0 25.0 216.3 24.0 217.4 21.0 230.4 21.0 230.1 24.5 230.6 27.0 233.5 32.3 235.0 33.3 236.5 32.8 244.0 26.7 247.0 23.5 248.2 21.0 301.3 21.0 302.1 22.5 309.6 30.0 311.0 32.2 312.5 42.0 314.9 48.5 314.6 55.0 317.5 58.5 317.4 61.0 316.0 62.5 314.5 62.8 313.2 62.5 311.0 60.3 308.5 60.6 307.0 61.8 302.5 68.0 298.0 69.7 296.5 71.0 292.0 77.5 290.0 82.0 287.4 85.5 285.1 90.0 282.6 97.0 280.5 106.0 279.0 108.3 268.5 112.7 256.5 115.9 250.8 119.5 241.0 123.5ZM426.0 218.5 423.0 217.3 420.0 213.4 415.0 212.3 414.6 211.0 415.0 205.3 412.9 205.5 412.0 206.6 410.8 210.0 410.0 210.6 408.5 210.5 407.1 209.0 405.5 205.5 404.5 204.7 397.0 203.1 389.5 200.7 384.5 197.5 378.5 194.8 373.2 189.0 371.5 187.9 363.5 186.8 355.5 182.7 347.0 179.2 341.5 177.6 330.5 177.8 324.9 180.0 315.0 182.4 312.5 182.0 307.0 179.4 297.0 178.9 294.0 177.8 291.5 175.7 286.8 168.5 285.8 166.0 285.8 162.5 287.5 159.3 290.5 156.8 299.5 151.0 305.0 148.8 315.0 147.0 323.5 147.9 328.5 144.2 335.5 140.1 341.5 138.4 344.0 136.5 344.7 133.5 342.4 125.0 344.6 118.0 342.9 113.5 341.5 104.5 340.4 101.0 340.6 99.0 341.5 97.6 344.0 96.7 352.0 95.9 360.5 99.2 363.5 99.4 367.0 98.8 371.0 97.1 374.1 95.0 380.3 87.0 381.7 84.0 382.3 81.0 380.9 76.0 379.1 73.0 377.0 70.8 368.8 66.0 368.1 64.5 368.0 62.5 368.9 59.0 371.5 55.2 377.0 52.8 381.5 49.4 386.1 48.5 388.5 47.4 390.0 45.8 392.7 40.0 393.2 38.0 392.7 36.0 387.0 29.5 384.3 21.0 426.0 21.0 426.0 159.8 417.0 153.5 415.0 152.9 412.5 152.9 402.0 156.2 394.1 159.5 390.4 163.0 389.0 166.5 389.4 169.0 390.9 171.5 392.9 173.5 395.5 174.9 400.5 176.3 412.5 176.4 415.0 178.0 418.5 192.0 416.7 204.0 420.5 206.5 422.5 210.4 426.0 210.4 426.0 218.5ZM217.8 34.0 218.5 33.0 218.4 31.0 217.5 29.5 216.5 29.4 215.5 30.4 215.5 31.6 216.5 33.4 217.8 34.0ZM334.5 73.1 333.5 73.0 332.5 71.6 331.0 65.0 331.2 62.0 329.4 58.5 330.7 54.0 332.6 51.5 335.5 50.0 337.5 50.0 346.5 56.0 349.0 57.0 351.0 56.6 354.5 53.8 356.5 53.0 360.0 53.2 362.2 54.5 362.7 56.5 361.6 60.0 358.9 65.5 356.4 68.0 350.0 70.9 338.0 70.7 334.5 73.1ZM64.5 146.1 61.5 145.7 57.3 143.5 55.8 142.0 54.2 134.5 53.9 127.5 52.8 126.0 49.5 123.6 47.5 123.0 38.0 124.2 38.0 82.4 43.5 86.6 49.5 93.6 51.4 97.0 53.6 103.0 56.4 116.0 56.8 119.5 56.6 125.5 64.5 130.1 69.0 136.0 69.7 139.0 69.1 142.0 67.5 144.1 64.5 146.1ZM140.0 201.5 135.5 201.6 131.0 199.7 127.0 195.9 123.7 190.5 119.8 182.5 118.0 174.5 118.7 170.5 122.2 167.5 129.5 165.4 135.5 165.9 139.0 168.0 144.4 175.0 147.8 184.5 147.4 194.0 146.9 196.0 145.5 197.9 142.5 200.4 140.0 201.5ZM335.5 365.5 332.0 365.9 330.0 365.6 327.9 364.5 326.2 362.5 325.3 359.5 324.9 353.5 325.1 351.0 326.0 348.8 329.5 346.1 339.5 342.5 347.0 342.5 350.5 343.5 357.3 351.0 357.8 353.0 357.2 355.0 354.8 356.5 346.8 359.0 341.5 364.7 335.5 365.5Z"/><path id="c22" d="M121.5 54.6 115.5 54.6 101.0 50.3 95.5 49.5 89.5 49.8 84.0 48.7 77.6 45.0 73.0 41.2 70.9 38.0 70.9 35.0 72.3 33.0 79.5 27.2 85.8 21.0 88.8 21.0 97.5 26.5 101.0 27.7 105.5 27.4 115.0 24.5 125.5 24.7 130.0 25.5 131.6 27.0 132.1 29.5 131.5 37.0 129.9 44.5 125.6 52.0 123.9 53.5 121.5 54.6ZM245.0 118.1 238.5 118.1 235.0 114.9 230.0 113.9 225.0 109.0 217.5 107.5 214.6 106.0 213.3 104.5 212.7 102.5 212.7 100.5 216.5 91.0 219.2 86.5 224.5 84.0 225.4 82.5 225.0 81.5 224.0 80.9 219.0 79.8 214.5 77.8 209.5 76.7 205.0 72.8 202.3 63.5 201.6 51.5 200.6 46.5 201.4 43.5 205.5 39.7 209.5 38.3 213.0 38.8 222.0 41.4 229.0 44.1 232.2 44.0 240.0 38.8 247.5 32.8 249.0 30.1 252.1 21.0 296.4 21.0 296.7 25.0 301.0 28.5 305.5 36.0 306.5 42.0 310.7 47.0 311.0 50.0 310.0 53.5 308.5 55.0 299.6 60.5 293.0 66.2 289.5 74.5 285.1 81.5 281.5 90.2 278.2 104.0 277.0 106.2 268.5 110.6 254.5 113.4 248.5 116.9 245.0 118.1ZM408.5 199.5 400.0 199.1 395.0 196.8 391.0 196.3 386.5 193.5 381.0 191.5 375.6 186.5 373.0 185.0 370.0 184.3 364.0 184.1 356.0 179.9 342.5 175.6 323.5 173.1 314.0 176.2 301.5 177.0 297.5 176.5 295.0 175.4 292.9 173.5 289.4 167.5 288.5 164.5 288.6 162.5 289.8 160.5 296.8 154.5 302.0 151.1 307.0 149.7 314.0 149.3 317.2 150.0 319.4 152.0 320.1 155.5 321.1 157.0 324.0 159.4 326.0 159.0 326.9 157.5 328.1 150.0 329.5 147.5 337.5 143.1 344.0 141.4 346.5 139.7 348.1 137.5 348.4 134.0 346.6 126.0 348.4 121.0 348.6 117.5 347.8 111.5 346.0 106.5 347.3 103.5 349.5 101.7 353.0 100.8 363.0 101.5 370.0 100.3 377.0 96.5 381.0 92.9 385.5 90.8 387.9 88.5 388.7 86.5 389.0 83.0 387.6 77.5 382.5 71.4 379.0 65.8 375.4 62.5 374.8 61.0 375.2 59.5 376.1 58.5 381.0 56.3 384.0 53.5 390.1 52.0 391.5 51.2 393.7 44.5 396.1 39.5 396.7 36.5 396.5 33.4 392.2 27.0 389.8 21.0 426.0 21.0 426.0 153.7 422.0 152.7 418.0 150.0 415.0 149.7 411.0 150.6 394.5 156.7 391.0 158.9 387.5 162.5 386.2 165.0 385.0 169.5 385.7 172.0 389.8 175.0 397.5 178.5 408.5 181.3 410.0 182.5 413.6 193.5 411.9 197.5 410.5 198.8 408.5 199.5ZM235.4 88.5 236.4 87.0 236.0 84.8 234.5 83.7 232.5 84.0 231.5 85.5 231.8 87.5 233.5 88.9 235.4 88.5ZM39.5 121.0 38.0 121.4 38.0 85.3 42.3 88.5 48.1 95.0 50.0 97.9 51.9 104.0 52.9 115.5 52.5 117.9 51.4 119.0 43.5 119.9 39.5 121.0ZM139.5 199.7 135.5 199.7 131.5 197.7 128.0 194.8 125.0 190.0 121.3 181.5 120.5 176.5 121.2 172.0 124.2 169.5 130.0 167.9 135.0 168.5 138.5 170.9 143.3 176.5 146.2 184.5 145.8 192.5 145.1 195.0 144.1 196.5 139.5 199.7Z"/><path id="c23" d="M247.0 112.6 245.0 112.7 244.0 111.9 243.5 110.0 243.6 104.5 239.5 99.6 238.0 99.8 235.5 102.7 233.0 103.6 227.0 101.2 221.5 101.1 219.5 100.0 219.2 95.5 220.5 93.8 221.5 93.7 225.0 95.0 234.5 96.5 238.5 96.5 240.5 95.3 242.8 92.5 245.9 90.0 246.5 87.5 244.2 84.5 237.5 79.8 231.5 79.2 227.0 77.3 221.5 76.2 216.0 73.2 211.0 71.4 206.8 65.0 207.2 58.5 203.3 48.0 203.4 45.0 204.5 43.5 206.5 42.2 211.5 41.3 218.1 43.5 224.5 47.9 230.0 48.2 236.5 46.9 240.5 47.5 242.5 46.3 245.2 41.5 252.7 33.5 254.7 25.5 258.2 21.0 291.7 21.0 290.0 27.5 287.0 31.0 287.3 33.5 289.5 36.0 295.4 39.5 297.0 42.2 305.5 47.0 306.6 49.0 306.3 51.0 305.0 52.5 293.0 60.5 290.7 63.0 287.0 72.5 282.9 77.5 280.0 83.5 276.6 101.0 274.6 105.0 271.8 107.0 267.0 109.1 251.5 110.7 247.0 112.6ZM391.5 189.5 383.5 188.2 378.5 184.1 373.5 182.2 369.5 181.2 364.0 180.9 355.5 176.8 332.5 171.3 330.5 170.0 329.3 168.5 327.9 166.0 327.8 164.0 330.0 160.0 331.2 155.5 333.8 149.5 335.5 148.5 341.0 147.4 343.5 146.3 349.0 142.3 351.2 139.5 351.7 136.5 351.7 120.0 351.0 107.5 351.7 105.5 356.0 103.9 362.0 103.9 372.0 102.6 384.0 98.7 390.0 98.2 395.5 94.8 397.7 92.0 398.3 89.5 398.1 86.0 395.3 80.0 394.8 76.0 390.5 73.7 387.5 71.0 385.2 68.0 384.6 65.5 385.0 62.0 386.5 59.4 393.5 55.6 395.0 54.0 395.2 46.0 400.2 34.5 400.3 30.5 396.8 26.0 395.0 21.0 426.0 21.0 426.0 149.7 424.0 149.2 419.0 146.4 412.5 146.8 405.0 151.0 392.5 155.3 384.5 161.7 380.6 169.5 380.6 171.5 381.6 173.5 386.5 177.9 395.3 181.0 400.9 184.0 402.2 185.5 402.1 187.0 400.5 188.2 391.5 189.5ZM120.5 52.6 116.0 52.6 108.0 49.7 97.0 47.4 90.0 47.7 85.0 46.7 77.1 40.5 75.5 38.0 75.4 36.0 84.5 26.5 87.0 24.9 89.5 25.4 94.0 28.7 99.0 31.1 114.0 27.3 125.0 27.5 127.3 29.0 128.6 31.0 129.1 34.0 128.9 37.5 127.4 44.5 126.4 47.0 123.5 50.9 120.5 52.6ZM39.0 118.5 38.0 118.8 38.0 87.8 41.5 90.5 48.0 97.7 49.7 101.5 50.4 106.0 50.0 112.5 48.6 115.5 46.5 116.7 39.0 118.5ZM304.0 174.5 299.5 174.3 296.3 172.5 292.5 167.0 291.7 164.5 291.8 163.0 298.8 155.0 302.5 152.2 307.5 150.9 313.0 151.5 315.5 153.5 316.5 158.5 318.0 162.0 318.2 164.0 317.5 167.0 316.1 169.5 313.6 171.5 308.5 173.8 304.0 174.5ZM139.0 197.5 135.5 197.5 132.0 195.7 128.5 192.9 126.0 189.0 123.2 181.5 122.7 178.0 123.6 174.0 126.0 171.6 130.5 170.6 134.5 171.3 139.5 174.6 142.2 178.0 144.5 184.5 144.3 190.5 142.6 195.0 139.0 197.5Z"/><path id="c24" d="M259.0 108.5 253.5 107.9 250.9 106.5 249.5 104.5 249.2 99.0 252.5 87.0 252.4 84.5 251.6 82.5 250.0 81.4 244.5 80.0 238.5 76.8 231.0 75.3 224.0 72.5 221.0 70.8 216.5 66.1 213.0 63.5 210.8 54.5 209.7 52.5 206.5 48.9 205.9 46.0 207.0 44.8 209.0 44.0 211.5 43.8 213.7 44.5 215.7 46.5 216.0 51.0 218.5 52.6 225.0 52.8 234.0 50.7 240.0 52.3 243.0 52.2 245.0 51.2 247.1 49.0 251.5 40.5 256.5 34.5 259.2 27.5 263.5 23.4 264.5 21.0 288.4 21.0 287.0 24.1 283.0 27.0 281.4 29.0 280.5 32.0 281.1 35.0 282.5 37.0 289.0 41.0 293.0 46.5 299.1 49.0 299.6 50.0 296.6 53.5 290.5 57.0 288.5 59.0 285.5 66.4 276.2 79.5 275.7 81.5 275.9 86.0 275.2 97.0 274.5 100.5 273.2 103.0 271.2 105.0 268.0 106.7 259.0 108.5ZM371.0 177.6 363.5 177.4 356.5 174.4 345.5 171.8 334.4 168.5 333.0 167.2 332.5 165.5 334.3 158.5 336.0 156.0 342.0 151.9 350.5 149.3 356.3 141.5 356.6 139.0 355.8 133.5 355.9 111.0 357.0 108.6 366.7 106.0 377.5 105.4 384.0 105.5 389.0 107.1 395.5 107.7 399.3 106.0 403.5 101.6 404.2 99.0 403.5 90.0 400.4 78.5 401.4 71.5 400.5 68.1 397.2 62.0 397.3 60.0 399.0 55.5 396.9 49.5 396.7 46.5 398.3 42.5 402.0 37.6 405.5 35.9 411.5 34.9 413.3 33.5 412.7 32.0 411.0 30.4 405.0 28.6 400.0 23.7 398.3 21.0 426.0 21.0 426.0 139.1 412.0 143.9 404.5 148.8 390.5 154.1 381.3 161.0 376.6 168.5 374.9 175.5 373.5 176.9 371.0 177.6ZM120.0 50.1 116.5 50.1 108.0 46.7 99.5 45.4 94.5 44.1 88.5 44.5 85.8 42.5 83.9 39.0 83.7 37.5 85.0 36.3 90.0 36.6 94.0 34.8 99.5 35.0 104.0 32.6 112.0 30.2 123.0 30.4 124.5 31.2 125.8 33.0 126.4 35.5 126.3 38.0 124.5 45.5 122.4 48.5 120.0 50.1ZM38.0 116.6 38.0 90.2 41.5 93.1 46.8 99.0 48.1 102.0 48.5 106.5 48.0 110.3 46.4 113.0 44.0 114.6 38.0 116.6ZM305.5 171.0 301.5 171.3 299.0 170.0 297.3 167.0 297.1 163.5 299.9 157.0 302.0 154.2 305.5 152.4 309.5 152.3 311.5 153.0 312.9 154.5 313.5 156.5 313.4 159.0 311.5 163.0 310.9 167.5 308.3 170.0 305.5 171.0ZM138.5 195.0 136.0 195.1 132.5 193.5 129.6 191.5 127.7 189.0 124.7 179.0 125.3 176.0 127.0 174.1 130.5 173.5 135.0 174.5 138.5 176.3 141.0 179.3 142.7 184.0 142.7 188.5 141.1 193.0 138.5 195.0Z"/><path id="c25" d="M406.5 56.0 404.5 55.8 402.5 54.9 400.0 52.4 398.5 50.0 398.1 46.0 400.5 41.3 403.0 39.0 406.5 37.8 412.0 37.9 420.6 39.0 422.7 37.5 423.7 35.0 422.6 33.0 417.0 29.9 413.0 26.3 406.0 24.3 402.4 21.0 426.0 21.0 426.0 55.0 423.1 53.0 421.0 52.6 411.0 55.3 406.5 56.0ZM261.0 80.0 259.0 80.0 253.0 78.1 245.5 77.3 233.9 72.5 227.5 68.3 223.6 66.5 222.5 64.5 221.7 60.0 223.0 59.3 230.0 59.6 233.5 56.6 235.5 56.1 238.5 56.3 246.0 58.3 248.5 57.9 250.3 55.5 250.8 51.0 252.0 47.5 256.4 40.0 262.5 34.4 270.0 32.0 272.5 34.5 277.0 36.3 285.2 42.0 287.8 45.5 288.0 48.5 286.5 51.9 282.2 55.0 281.0 56.5 280.6 58.0 280.9 62.5 275.4 72.0 272.5 74.6 265.0 78.9 261.0 80.0ZM119.5 46.6 117.0 46.9 111.5 44.7 103.0 42.9 100.5 41.5 99.9 40.5 100.1 39.5 104.1 36.0 112.0 33.1 115.5 32.9 120.5 33.7 122.8 35.5 123.3 39.0 122.0 44.0 119.5 46.6ZM368.0 174.1 365.0 174.3 358.0 171.6 347.0 169.7 341.0 166.5 339.9 164.0 340.6 160.0 345.0 155.6 346.8 154.5 353.5 152.4 360.5 146.5 362.0 144.5 362.2 142.0 359.9 133.0 360.0 124.5 361.0 118.4 364.0 112.0 366.1 110.0 369.5 109.2 383.5 109.7 388.5 110.6 395.5 110.9 408.0 107.8 409.5 107.0 410.6 105.0 410.6 101.5 408.2 95.0 405.0 82.5 405.5 68.0 406.5 66.6 408.0 66.2 414.5 67.1 419.8 63.5 426.0 61.8 426.0 135.6 416.5 137.6 404.4 146.0 388.9 152.5 377.9 160.5 373.8 166.0 371.0 171.5 368.0 174.1ZM259.0 107.0 255.5 106.4 253.0 104.5 251.8 101.5 252.1 97.5 257.5 86.7 259.5 85.3 262.8 84.5 265.0 82.6 266.5 82.5 270.0 85.7 272.8 91.5 273.5 95.0 273.0 98.5 271.3 102.0 268.7 104.5 265.0 106.0 259.0 107.0ZM38.5 114.1 38.0 114.3 38.0 92.7 41.3 95.5 44.7 99.5 45.9 102.0 46.3 105.0 46.0 108.0 44.5 110.5 42.1 112.5 38.5 114.1ZM307.5 160.6 304.5 160.4 303.3 159.0 302.8 157.5 303.7 155.0 307.0 153.6 310.0 154.4 311.1 156.5 310.0 159.0 307.5 160.6ZM137.5 192.0 135.5 191.9 132.5 190.9 129.3 188.0 127.9 184.5 127.1 180.5 127.3 178.5 128.5 177.0 131.0 176.7 135.5 177.4 137.7 178.5 139.5 180.5 140.8 184.0 140.7 187.5 139.5 190.6 137.5 192.0Z"/><path id="c26" d="M426.0 28.7 419.5 26.8 410.8 21.0 426.0 21.0 426.0 28.7ZM118.0 41.7 111.5 39.8 110.8 39.0 113.5 36.9 116.9 37.0 118.4 38.0 119.0 39.2 119.0 40.5 118.0 41.7ZM257.5 76.0 247.5 75.8 239.0 72.5 233.5 67.5 233.2 65.5 233.8 63.5 235.5 61.4 237.5 60.4 246.5 61.0 249.0 60.6 255.0 56.7 259.3 55.0 259.7 53.0 258.8 47.0 259.4 44.0 260.9 41.0 264.0 38.8 267.5 38.1 274.0 38.8 277.5 39.8 280.6 41.5 283.5 44.5 283.7 47.5 282.5 49.5 278.4 53.0 276.8 55.0 274.3 63.0 274.1 67.0 273.0 69.7 271.0 71.5 266.0 73.8 257.5 76.0ZM410.0 53.6 406.5 53.9 404.0 53.5 401.7 52.0 400.0 50.0 399.2 47.5 399.5 45.0 400.9 42.5 402.9 40.5 407.0 39.1 412.5 39.6 417.0 41.1 422.6 44.5 422.9 45.5 422.4 47.0 419.8 49.5 416.0 51.7 410.0 53.6ZM426.0 44.3 425.5 43.5 426.0 42.5 426.0 44.3ZM423.5 70.5 421.8 70.0 421.8 68.0 423.0 67.0 426.0 66.6 426.0 70.1 423.5 70.5ZM411.5 83.3 410.0 83.1 409.3 82.0 409.5 80.3 410.5 79.4 411.5 79.5 412.1 80.5 412.2 82.0 411.5 83.3ZM367.0 169.5 363.0 169.6 355.5 166.9 348.5 166.1 346.6 165.0 346.0 163.5 346.6 161.5 348.5 159.5 360.8 153.0 366.0 146.9 366.6 142.0 364.5 134.1 363.6 126.0 364.2 123.5 368.5 114.5 370.5 112.9 375.0 112.1 383.5 113.2 388.5 115.6 396.5 113.8 401.0 113.4 403.5 114.0 408.0 116.8 410.0 116.9 415.0 110.5 415.9 108.5 414.8 100.5 413.3 94.0 413.9 89.5 415.0 88.7 418.5 87.7 421.5 85.8 426.0 85.3 426.0 132.6 421.0 133.1 413.0 135.6 406.0 141.7 395.0 147.3 385.0 151.4 374.5 159.6 368.8 168.0 367.0 169.5ZM262.5 105.1 258.5 105.4 256.0 104.4 254.1 101.5 254.0 98.0 255.8 94.5 259.0 90.7 261.5 89.7 266.5 89.4 269.0 90.9 270.7 93.0 271.4 95.5 271.1 98.0 269.8 101.0 268.1 103.0 262.5 105.1ZM38.5 111.1 38.0 111.4 38.0 95.3 41.9 99.5 43.2 103.5 42.3 107.5 38.5 111.1ZM135.5 188.5 132.5 187.5 131.0 185.8 130.3 182.5 131.5 180.7 135.5 180.7 138.0 182.9 138.4 185.0 138.0 187.0 137.0 188.1 135.5 188.5Z"/><path id="c27" d="M426.0 25.6 422.1 24.5 417.9 21.0 426.0 21.0 426.0 25.6ZM408.5 52.6 404.5 52.2 401.1 49.5 400.3 46.0 402.1 42.5 405.0 40.6 409.0 40.2 413.5 41.2 417.1 43.5 418.5 46.0 418.1 47.5 417.0 49.0 413.5 51.2 408.5 52.6ZM271.5 54.1 269.0 53.1 265.2 49.5 264.3 48.0 263.9 44.0 264.9 42.5 266.6 41.5 270.5 40.8 275.0 41.3 278.5 42.9 280.3 45.0 280.3 46.5 279.0 48.5 273.0 53.4 271.5 54.1ZM252.0 74.5 246.5 73.9 240.5 71.0 238.6 68.0 238.5 66.0 239.0 64.5 242.0 62.8 248.5 62.6 255.0 60.8 258.0 60.5 265.0 62.0 268.4 65.0 268.9 66.5 268.7 68.0 265.4 71.0 258.0 73.8 252.0 74.5ZM420.0 129.5 417.0 129.8 415.6 128.5 415.2 127.0 416.3 123.5 416.9 118.0 418.5 116.0 421.5 114.0 422.5 112.0 419.5 103.0 419.5 94.0 421.0 92.4 426.0 91.2 426.0 128.2 420.0 129.5ZM262.5 103.6 259.5 103.8 257.5 103.0 256.0 100.8 255.9 98.0 257.5 95.2 260.0 93.1 263.0 92.2 266.0 92.4 267.9 93.5 269.0 95.0 269.0 98.5 266.7 102.0 262.5 103.6ZM38.0 107.4 38.0 98.2 39.7 100.5 40.2 103.0 39.8 105.0 38.0 107.4ZM376.0 154.1 374.0 154.2 372.7 153.0 372.1 140.0 369.0 132.5 368.2 129.5 368.6 126.0 372.3 118.0 374.1 116.5 377.0 115.9 381.0 116.7 387.0 120.0 389.5 119.7 395.5 117.7 399.0 118.5 408.5 128.0 409.1 129.5 408.6 131.5 403.2 138.0 400.8 140.0 391.5 146.0 384.5 147.3 382.0 148.4 379.8 150.0 376.0 154.1ZM365.0 164.5 363.0 164.6 361.0 163.0 359.9 160.5 361.1 158.5 364.5 157.7 366.5 158.1 367.5 158.9 367.2 162.0 365.0 164.5Z"/><path id="c28" d="M408.5 51.5 406.0 51.4 404.0 50.7 402.5 49.4 401.5 47.5 401.5 45.5 402.5 43.6 406.0 41.3 409.0 41.2 412.3 42.0 414.7 43.5 416.0 45.5 415.8 47.5 414.5 49.1 412.0 50.6 408.5 51.5ZM273.0 49.1 271.0 48.7 269.0 47.1 268.4 45.5 269.2 44.0 271.0 43.3 273.0 43.3 275.4 44.0 276.5 45.0 276.7 46.0 276.1 47.5 273.0 49.1ZM253.0 73.0 248.5 72.8 243.9 71.0 241.5 68.5 241.7 66.0 244.0 64.5 256.5 63.0 261.0 63.7 263.7 65.5 264.2 67.5 262.8 69.5 257.5 72.1 253.0 73.0ZM263.0 101.6 259.5 101.5 258.4 100.5 258.1 98.5 259.0 96.7 260.5 95.4 262.5 94.7 264.5 94.8 266.5 96.2 266.7 98.5 265.4 100.5 263.0 101.6ZM426.0 102.9 425.6 101.0 426.0 99.2 426.0 102.9ZM383.5 143.0 381.0 143.0 379.6 142.0 378.5 137.0 375.2 134.0 374.1 131.5 373.8 128.0 374.4 125.5 376.5 122.4 378.5 121.1 381.0 121.8 383.0 125.1 384.5 126.2 386.5 126.1 391.0 124.6 394.0 124.8 398.3 128.0 399.4 130.0 397.8 137.0 396.0 139.4 390.0 142.3 383.5 143.0Z"/><path id="c29" d="M408.5 50.5 405.0 49.9 402.8 47.5 403.1 44.5 406.0 42.3 408.5 42.1 411.0 42.6 413.2 44.0 414.1 45.5 414.1 47.0 413.1 48.5 411.0 49.8 408.5 50.5ZM252.0 71.5 249.5 71.2 246.6 70.0 245.0 68.6 244.9 67.5 246.5 66.4 253.5 65.2 257.0 65.3 259.5 66.5 259.7 68.0 258.3 69.5 255.3 71.0 252.0 71.5ZM386.0 136.0 384.9 134.5 386.3 132.5 390.0 131.1 391.9 132.0 392.2 133.5 391.5 134.5 386.0 136.0Z"/><path id="c30" d="M410.0 49.1 407.5 49.5 405.0 48.5 403.9 46.5 404.6 44.5 406.0 43.5 408.0 43.1 411.5 44.3 412.3 45.5 412.3 47.0 410.0 49.1Z"/><path id="c31" d="M409.0 48.0 407.5 48.1 406.2 47.5 405.6 46.0 406.2 45.0 408.0 44.4 410.0 45.2 410.5 46.6 409.0 48.0Z"/></defs>
<g opacity="0.9"><rect x="38" y="21" width="388" height="396" fill="#450559"/><use href="#c1" fill="#471164"/><use href="#c2" fill="#481b6d"/><use href="#c3" fill="#482576"/><use href="#c4" fill="#472e7c"/><use href="#c5" fill="#453882"/><use href="#c6" fill="#424086"/><use href="#c7" fill="#3e4989"/><use href="#c8" fill="#3b528b"/><use href="#c9" fill="#375a8c"/><use href="#c10" fill="#33628d"/><use href="#c11" fill="#30698e"/><use href="#c12" fill="#2d718e"/><use href="#c13" fill="#2a778e"/><use href="#c14" fill="#277f8e"/><use href="#c15" fill="#25858e"/><use href="#c16" fill="#228d8d"/><use href="#c17" fill="#20938c"/><use href="#c18" fill="#1e9b8a"/><use href="#c19" fill="#1fa187"/><use href="#c20" fill="#23a983"/><use href="#c21" fill="#29af7f"/><use href="#c22" fill="#34b679"/><use href="#c23" fill="#3fbc73"/><use href="#c24" fill="#4ec36b"/><use href="#c25" fill="#5ec962"/><use href="#c26" fill="#6ece58"/><use href="#c27" fill="#81d34d"/><use href="#c28" fill="#93d741"/><use href="#c29" fill="#a8db34"/><use href="#c30" fill="#bade28"/><use href="#c31" fill="#d0e11c"/></g>
<g fill="none" stroke="#000" stroke-opacity="0.38" stroke-width="0.55"><use href="#c1"/><use href="#c2"/><use href="#c3"/><use href="#c4"/><use href="#c5"/><use href="#c6"/><use href="#c7"/><use href="#c8"/><use href="#c9"/><use href="#c10"/><use href="#c11"/><use href="#c12"/><use href="#c13"/><use href="#c14"/><use href="#c15"/><use href="#c16"/><use href="#c17"/><use href="#c18"/><use href="#c19"/><use href="#c20"/><use href="#c21"/><use href="#c22"/><use href="#c23"/><use href="#c24"/><use href="#c25"/><use href="#c26"/><use href="#c27"/><use href="#c28"/><use href="#c29"/><use href="#c30"/><use href="#c31"/></g></g>
<path d="M423.0 413.4L440.9 431.4" stroke="#333" stroke-width="0.9" fill="none"/>
<path d="M50.5 413.4V420M81.5 413.4V420M113.5 413.4V420M145.5 413.4V420M176.5 413.4V420M208.5 413.4V420M240.5 413.4V420M271.5 413.4V420M303.5 413.4V420M335.5 413.4V420M366.5 413.4V420M398.5 413.4V420M35.1 392.5H41.0M35.1 370.5H41.0M35.1 349.5H41.0M35.1 328.5H41.0M35.1 306.5H41.0M35.1 285.5H41.0M35.1 263.5H41.0M35.1 242.5H41.0M35.1 220.5H41.0M35.1 199.5H41.0M35.1 178.5H41.0M35.1 156.5H41.0M35.1 135.5H41.0M35.1 113.5H41.0M35.1 92.5H41.0M35.1 71.5H41.0M35.1 49.5H41.0M35.1 28.5H41.0" stroke="#3a3a3a" stroke-width="1" fill="none"/>
<g font-size="8.4" fill="#1a1a1a" stroke="#1a1a1a" stroke-width="0.12"><text x="49.2" y="429.8" text-anchor="middle">-6</text><text x="80.8" y="429.8" text-anchor="middle">-5</text><text x="112.4" y="429.8" text-anchor="middle">-4</text><text x="144.1" y="429.8" text-anchor="middle">-3</text><text x="175.7" y="429.8" text-anchor="middle">-2</text><text x="207.4" y="429.8" text-anchor="middle">-1</text><text x="239.9" y="429.8" text-anchor="middle">0</text><text x="271.6" y="429.8" text-anchor="middle">1</text><text x="303.2" y="429.8" text-anchor="middle">2</text><text x="334.9" y="429.8" text-anchor="middle">3</text><text x="366.5" y="429.8" text-anchor="middle">4</text><text x="398.2" y="429.8" text-anchor="middle">5</text><text x="34.9" y="398.4" text-anchor="end">-8</text><text x="34.9" y="377.0" text-anchor="end">-7</text><text x="34.9" y="355.6" text-anchor="end">-6</text><text x="34.9" y="334.2" text-anchor="end">-5</text><text x="34.9" y="312.8" text-anchor="end">-4</text><text x="34.9" y="291.3" text-anchor="end">-3</text><text x="34.9" y="269.9" text-anchor="end">-2</text><text x="34.9" y="248.5" text-anchor="end">-1</text><text x="34.9" y="227.1" text-anchor="end">-0</text><text x="34.9" y="205.7" text-anchor="end">1</text><text x="34.9" y="184.2" text-anchor="end">2</text><text x="34.9" y="162.8" text-anchor="end">3</text><text x="34.9" y="141.4" text-anchor="end">4</text><text x="34.9" y="120.0" text-anchor="end">5</text><text x="34.9" y="98.6" text-anchor="end">6</text><text x="34.9" y="77.1" text-anchor="end">7</text><text x="34.9" y="55.7" text-anchor="end">8</text><text x="34.9" y="34.3" text-anchor="end">9</text></g>
<linearGradient id="cbg" x1="0" y1="1" x2="0" y2="0"><stop offset="0.000%" stop-color="#581e69"/><stop offset="2.941%" stop-color="#581e69"/><stop offset="2.941%" stop-color="#5a2973"/><stop offset="5.882%" stop-color="#5a2973"/><stop offset="5.882%" stop-color="#5a327b"/><stop offset="8.824%" stop-color="#5a327b"/><stop offset="8.824%" stop-color="#5a3b83"/><stop offset="11.765%" stop-color="#5a3b83"/><stop offset="11.765%" stop-color="#594389"/><stop offset="14.706%" stop-color="#594389"/><stop offset="14.706%" stop-color="#574c8e"/><stop offset="17.647%" stop-color="#574c8e"/><stop offset="17.647%" stop-color="#555392"/><stop offset="20.588%" stop-color="#555392"/><stop offset="20.588%" stop-color="#525c95"/><stop offset="23.529%" stop-color="#525c95"/><stop offset="23.529%" stop-color="#4e6397"/><stop offset="26.471%" stop-color="#4e6397"/><stop offset="26.471%" stop-color="#4b6a98"/><stop offset="29.412%" stop-color="#4b6a98"/><stop offset="29.412%" stop-color="#487299"/><stop offset="32.353%" stop-color="#487299"/><stop offset="32.353%" stop-color="#457899"/><stop offset="35.294%" stop-color="#457899"/><stop offset="35.294%" stop-color="#427f99"/><stop offset="38.235%" stop-color="#427f99"/><stop offset="38.235%" stop-color="#3f859a"/><stop offset="41.176%" stop-color="#3f859a"/><stop offset="41.176%" stop-color="#3d8c99"/><stop offset="44.118%" stop-color="#3d8c99"/><stop offset="44.118%" stop-color="#3a9199"/><stop offset="47.059%" stop-color="#3a9199"/><stop offset="47.059%" stop-color="#389898"/><stop offset="50.000%" stop-color="#389898"/><stop offset="50.000%" stop-color="#369e97"/><stop offset="52.941%" stop-color="#369e97"/><stop offset="52.941%" stop-color="#35a595"/><stop offset="55.882%" stop-color="#35a595"/><stop offset="55.882%" stop-color="#36ab93"/><stop offset="58.824%" stop-color="#36ab93"/><stop offset="58.824%" stop-color="#39b190"/><stop offset="61.765%" stop-color="#39b190"/><stop offset="61.765%" stop-color="#3fb78c"/><stop offset="64.706%" stop-color="#3fb78c"/><stop offset="64.706%" stop-color="#48be87"/><stop offset="67.647%" stop-color="#48be87"/><stop offset="67.647%" stop-color="#52c381"/><stop offset="70.588%" stop-color="#52c381"/><stop offset="70.588%" stop-color="#5fc97a"/><stop offset="73.529%" stop-color="#5fc97a"/><stop offset="73.529%" stop-color="#6ecf71"/><stop offset="76.471%" stop-color="#6ecf71"/><stop offset="76.471%" stop-color="#7cd369"/><stop offset="79.412%" stop-color="#7cd369"/><stop offset="79.412%" stop-color="#8ed85e"/><stop offset="82.353%" stop-color="#8ed85e"/><stop offset="82.353%" stop-color="#9edb54"/><stop offset="85.294%" stop-color="#9edb54"/><stop offset="85.294%" stop-color="#b0df48"/><stop offset="88.235%" stop-color="#b0df48"/><stop offset="88.235%" stop-color="#c1e23d"/><stop offset="91.176%" stop-color="#c1e23d"/><stop offset="91.176%" stop-color="#d4e433"/><stop offset="94.118%" stop-color="#d4e433"/><stop offset="94.118%" stop-color="#e5e62f"/><stop offset="97.059%" stop-color="#e5e62f"/><stop offset="97.059%" stop-color="#f7e936"/><stop offset="100.000%" stop-color="#f7e936"/></linearGradient>
<rect x="440.5" y="44.2" width="18.100000000000023" height="366.40000000000003" fill="url(#cbg)"/>
<rect x="440.5" y="44.2" width="18.100000000000023" height="366.40000000000003" fill="none" stroke="#333" stroke-width="0.8"/>
<path d="M458.6 410.6H461.5M458.6 367.5H461.5M458.6 324.4H461.5M458.6 281.3H461.5M458.6 238.2H461.5M458.6 195.1H461.5M458.6 152.0H461.5M458.6 108.9H461.5M458.6 65.8H461.5" stroke="#333" stroke-width="0.9"/>
<g font-size="8.6" fill="#1a1a1a" stroke="#1a1a1a" stroke-width="0.12"><text x="464.0" y="413.6" textLength="19.8" lengthAdjust="spacingAndGlyphs">2500</text><text x="464.0" y="370.5" textLength="19.8" lengthAdjust="spacingAndGlyphs">2700</text><text x="464.0" y="327.4" textLength="19.8" lengthAdjust="spacingAndGlyphs">2900</text><text x="464.0" y="284.3" textLength="19.8" lengthAdjust="spacingAndGlyphs">3100</text><text x="464.0" y="241.2" textLength="19.8" lengthAdjust="spacingAndGlyphs">3300</text><text x="464.0" y="198.1" textLength="19.8" lengthAdjust="spacingAndGlyphs">3500</text><text x="464.0" y="155.0" textLength="19.8" lengthAdjust="spacingAndGlyphs">3700</text><text x="464.0" y="111.9" textLength="19.8" lengthAdjust="spacingAndGlyphs">3900</text><text x="464.0" y="68.8" textLength="19.8" lengthAdjust="spacingAndGlyphs">4100</text></g>
<text x="182.4" y="448.7" font-size="9" fill="#1a1a1a" stroke="#1a1a1a" stroke-width="0.1" textLength="99.6" lengthAdjust="spacingAndGlyphs">Distance East–West [km]</text>
<text transform="translate(11.1,274.6) rotate(-90)" x="0" y="0" font-size="9" fill="#1a1a1a" stroke="#1a1a1a" stroke-width="0.1" textLength="110.8" lengthAdjust="spacingAndGlyphs">Distance North–South [km]</text>
<text transform="translate(493.7,295.2) rotate(-90)" x="0" y="0" font-size="9" fill="#1a1a1a" stroke="#1a1a1a" stroke-width="0.1" textLength="135.2" lengthAdjust="spacingAndGlyphs">Height above mean sea level [m]</text>
<polygon points="112.3,40.9 108.9,47.5 115.7,47.5" fill="#000"/>
<polygon points="231.2,104.4 227.8,111.0 234.6,111.0" fill="#000"/>
<polygon points="131.7,181.1 128.3,187.7 135.1,187.7" fill="#000"/>
<polygon points="193.0,239.4 189.6,246.0 196.4,246.0" fill="#000"/>
<polygon points="328.7,358.0 325.3,364.6 332.1,364.6" fill="#000"/>
<rect x="188.8" y="172.2" width="7" height="6.7" fill="#000"/>
<polygon points="200.50,181.50 201.62,184.26 204.59,184.47 202.31,186.39 203.03,189.28 200.50,187.70 197.97,189.28 198.69,186.39 196.41,184.47 199.38,184.26" fill="#000"/>
<circle cx="326.8" cy="327.7" r="3.6" fill="#000"/>
<text x="84.1" y="56.3" font-size="10.4" fill="#000" stroke="#000" stroke-width="0.18" textLength="54.6" lengthAdjust="spacingAndGlyphs">Mt Bellview</text>
<text x="205.1" y="121.0" font-size="10.4" fill="#000" stroke="#000" stroke-width="0.18" textLength="51.9" lengthAdjust="spacingAndGlyphs">Avery Peak</text>
<text x="91.8" y="198.3" font-size="10.4" fill="#000" stroke="#000" stroke-width="0.18" textLength="77.8" lengthAdjust="spacingAndGlyphs">Gothic Mountain</text>
<rect x="167.2" y="158.0" width="49.2" height="10.6" fill="#fff" fill-opacity="0.88"/><text x="168.4" y="166.2" font-size="10.4" fill="#000" stroke="#000" stroke-width="0.18" textLength="47.0" lengthAdjust="spacingAndGlyphs">LIMRAD94</text>
<rect x="186.1" y="190.0" width="67.8" height="10.0" fill="#fff" fill-opacity="0.88"/><text x="186.7" y="197.6" font-size="10.4" fill="#000" stroke="#000" stroke-width="0.18" textLength="66.1" lengthAdjust="spacingAndGlyphs">KAZR &amp; VISSS</text>
<text x="144.0" y="256.4" font-size="10.4" fill="#000" stroke="#000" stroke-width="0.18" textLength="97.6" lengthAdjust="spacingAndGlyphs">Snodgrass Mountain</text>
<rect x="298.0" y="310.3" width="57.3" height="9.9" fill="#fff" fill-opacity="0.88"/><text x="298.8" y="317.9" font-size="10.4" fill="#000" stroke="#000" stroke-width="0.18" textLength="55.2" lengthAdjust="spacingAndGlyphs">CSU X-band</text>
<text x="277.6" y="372.6" font-size="10.4" fill="#000" stroke="#000" stroke-width="0.18" textLength="98.7" lengthAdjust="spacingAndGlyphs">Mount Crested Butte</text>
</svg>
</div>
</body></html>
